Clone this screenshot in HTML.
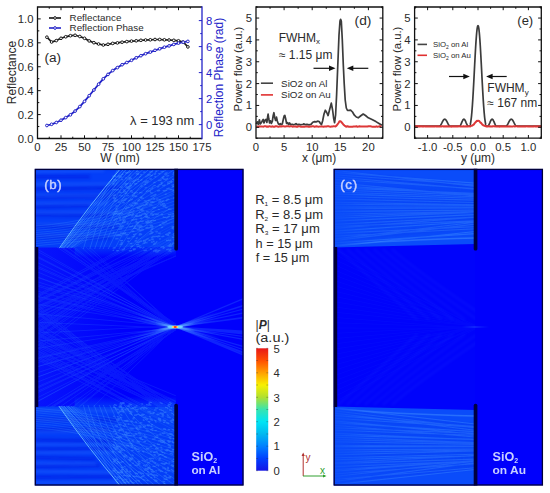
<!DOCTYPE html>
<html><head><meta charset="utf-8"><style>
html,body{margin:0;padding:0;background:#fff;font-family:"Liberation Sans", sans-serif;}
svg{display:block;}
</style></head><body>
<svg width="550" height="493" viewBox="0 0 550 493" font-family="&quot;Liberation Sans&quot;, sans-serif">
<rect width="550" height="493" fill="#fff"/>
<path d="M46.90,37.20L51.60,42.00L56.30,40.60L61.00,38.30L65.70,36.80L70.40,35.70L75.10,35.30L79.80,36.50L84.50,38.30L89.20,40.90L93.90,42.70L98.60,44.00L103.30,45.00L108.00,44.30L112.70,43.40L117.40,42.90L122.10,42.20L126.80,41.60L131.50,41.10L136.20,40.80L140.90,40.30L145.60,40.00L150.30,39.80L155.00,39.50L159.70,39.50L164.40,39.80L169.10,40.00L173.80,40.30L178.50,40.80L183.20,42.00L187.90,46.90" stroke="#1a1a1a" stroke-width="1.7" fill="none" stroke-linejoin="round"/>
<path d="M46.90,125.50L51.60,124.30L56.30,122.50L61.00,120.20L65.70,117.60L70.40,114.80L75.10,111.10L79.80,106.60L84.50,101.40L89.20,95.70L93.90,90.00L98.60,84.20L103.30,78.80L108.00,74.40L112.70,70.60L117.40,67.60L122.10,64.70L126.80,62.50L131.50,60.30L136.20,57.80L140.90,55.70L145.60,53.70L150.30,52.10L155.00,50.30L159.70,48.80L164.40,47.20L169.10,45.90L173.80,44.40L178.50,43.10L183.20,42.20L187.90,41.40" stroke="#2222c8" stroke-width="1.8" fill="none" stroke-linejoin="round"/>
<circle cx="46.90" cy="37.20" r="1.35" fill="#fff" stroke="#1a1a1a" stroke-width="1.0"/>
<circle cx="51.60" cy="42.00" r="1.35" fill="#fff" stroke="#1a1a1a" stroke-width="1.0"/>
<circle cx="56.30" cy="40.60" r="1.35" fill="#fff" stroke="#1a1a1a" stroke-width="1.0"/>
<circle cx="61.00" cy="38.30" r="1.35" fill="#fff" stroke="#1a1a1a" stroke-width="1.0"/>
<circle cx="65.70" cy="36.80" r="1.35" fill="#fff" stroke="#1a1a1a" stroke-width="1.0"/>
<circle cx="70.40" cy="35.70" r="1.35" fill="#fff" stroke="#1a1a1a" stroke-width="1.0"/>
<circle cx="75.10" cy="35.30" r="1.35" fill="#fff" stroke="#1a1a1a" stroke-width="1.0"/>
<circle cx="79.80" cy="36.50" r="1.35" fill="#fff" stroke="#1a1a1a" stroke-width="1.0"/>
<circle cx="84.50" cy="38.30" r="1.35" fill="#fff" stroke="#1a1a1a" stroke-width="1.0"/>
<circle cx="89.20" cy="40.90" r="1.35" fill="#fff" stroke="#1a1a1a" stroke-width="1.0"/>
<circle cx="93.90" cy="42.70" r="1.35" fill="#fff" stroke="#1a1a1a" stroke-width="1.0"/>
<circle cx="98.60" cy="44.00" r="1.35" fill="#fff" stroke="#1a1a1a" stroke-width="1.0"/>
<circle cx="103.30" cy="45.00" r="1.35" fill="#fff" stroke="#1a1a1a" stroke-width="1.0"/>
<circle cx="108.00" cy="44.30" r="1.35" fill="#fff" stroke="#1a1a1a" stroke-width="1.0"/>
<circle cx="112.70" cy="43.40" r="1.35" fill="#fff" stroke="#1a1a1a" stroke-width="1.0"/>
<circle cx="117.40" cy="42.90" r="1.35" fill="#fff" stroke="#1a1a1a" stroke-width="1.0"/>
<circle cx="122.10" cy="42.20" r="1.35" fill="#fff" stroke="#1a1a1a" stroke-width="1.0"/>
<circle cx="126.80" cy="41.60" r="1.35" fill="#fff" stroke="#1a1a1a" stroke-width="1.0"/>
<circle cx="131.50" cy="41.10" r="1.35" fill="#fff" stroke="#1a1a1a" stroke-width="1.0"/>
<circle cx="136.20" cy="40.80" r="1.35" fill="#fff" stroke="#1a1a1a" stroke-width="1.0"/>
<circle cx="140.90" cy="40.30" r="1.35" fill="#fff" stroke="#1a1a1a" stroke-width="1.0"/>
<circle cx="145.60" cy="40.00" r="1.35" fill="#fff" stroke="#1a1a1a" stroke-width="1.0"/>
<circle cx="150.30" cy="39.80" r="1.35" fill="#fff" stroke="#1a1a1a" stroke-width="1.0"/>
<circle cx="155.00" cy="39.50" r="1.35" fill="#fff" stroke="#1a1a1a" stroke-width="1.0"/>
<circle cx="159.70" cy="39.50" r="1.35" fill="#fff" stroke="#1a1a1a" stroke-width="1.0"/>
<circle cx="164.40" cy="39.80" r="1.35" fill="#fff" stroke="#1a1a1a" stroke-width="1.0"/>
<circle cx="169.10" cy="40.00" r="1.35" fill="#fff" stroke="#1a1a1a" stroke-width="1.0"/>
<circle cx="173.80" cy="40.30" r="1.35" fill="#fff" stroke="#1a1a1a" stroke-width="1.0"/>
<circle cx="178.50" cy="40.80" r="1.35" fill="#fff" stroke="#1a1a1a" stroke-width="1.0"/>
<circle cx="183.20" cy="42.00" r="1.35" fill="#fff" stroke="#1a1a1a" stroke-width="1.0"/>
<circle cx="187.90" cy="46.90" r="1.35" fill="#fff" stroke="#1a1a1a" stroke-width="1.0"/>
<circle cx="46.90" cy="125.50" r="1.35" fill="#fff" stroke="#2222c8" stroke-width="1.0"/>
<circle cx="51.60" cy="124.30" r="1.35" fill="#fff" stroke="#2222c8" stroke-width="1.0"/>
<circle cx="56.30" cy="122.50" r="1.35" fill="#fff" stroke="#2222c8" stroke-width="1.0"/>
<circle cx="61.00" cy="120.20" r="1.35" fill="#fff" stroke="#2222c8" stroke-width="1.0"/>
<circle cx="65.70" cy="117.60" r="1.35" fill="#fff" stroke="#2222c8" stroke-width="1.0"/>
<circle cx="70.40" cy="114.80" r="1.35" fill="#fff" stroke="#2222c8" stroke-width="1.0"/>
<circle cx="75.10" cy="111.10" r="1.35" fill="#fff" stroke="#2222c8" stroke-width="1.0"/>
<circle cx="79.80" cy="106.60" r="1.35" fill="#fff" stroke="#2222c8" stroke-width="1.0"/>
<circle cx="84.50" cy="101.40" r="1.35" fill="#fff" stroke="#2222c8" stroke-width="1.0"/>
<circle cx="89.20" cy="95.70" r="1.35" fill="#fff" stroke="#2222c8" stroke-width="1.0"/>
<circle cx="93.90" cy="90.00" r="1.35" fill="#fff" stroke="#2222c8" stroke-width="1.0"/>
<circle cx="98.60" cy="84.20" r="1.35" fill="#fff" stroke="#2222c8" stroke-width="1.0"/>
<circle cx="103.30" cy="78.80" r="1.35" fill="#fff" stroke="#2222c8" stroke-width="1.0"/>
<circle cx="108.00" cy="74.40" r="1.35" fill="#fff" stroke="#2222c8" stroke-width="1.0"/>
<circle cx="112.70" cy="70.60" r="1.35" fill="#fff" stroke="#2222c8" stroke-width="1.0"/>
<circle cx="117.40" cy="67.60" r="1.35" fill="#fff" stroke="#2222c8" stroke-width="1.0"/>
<circle cx="122.10" cy="64.70" r="1.35" fill="#fff" stroke="#2222c8" stroke-width="1.0"/>
<circle cx="126.80" cy="62.50" r="1.35" fill="#fff" stroke="#2222c8" stroke-width="1.0"/>
<circle cx="131.50" cy="60.30" r="1.35" fill="#fff" stroke="#2222c8" stroke-width="1.0"/>
<circle cx="136.20" cy="57.80" r="1.35" fill="#fff" stroke="#2222c8" stroke-width="1.0"/>
<circle cx="140.90" cy="55.70" r="1.35" fill="#fff" stroke="#2222c8" stroke-width="1.0"/>
<circle cx="145.60" cy="53.70" r="1.35" fill="#fff" stroke="#2222c8" stroke-width="1.0"/>
<circle cx="150.30" cy="52.10" r="1.35" fill="#fff" stroke="#2222c8" stroke-width="1.0"/>
<circle cx="155.00" cy="50.30" r="1.35" fill="#fff" stroke="#2222c8" stroke-width="1.0"/>
<circle cx="159.70" cy="48.80" r="1.35" fill="#fff" stroke="#2222c8" stroke-width="1.0"/>
<circle cx="164.40" cy="47.20" r="1.35" fill="#fff" stroke="#2222c8" stroke-width="1.0"/>
<circle cx="169.10" cy="45.90" r="1.35" fill="#fff" stroke="#2222c8" stroke-width="1.0"/>
<circle cx="173.80" cy="44.40" r="1.35" fill="#fff" stroke="#2222c8" stroke-width="1.0"/>
<circle cx="178.50" cy="43.10" r="1.35" fill="#fff" stroke="#2222c8" stroke-width="1.0"/>
<circle cx="183.20" cy="42.20" r="1.35" fill="#fff" stroke="#2222c8" stroke-width="1.0"/>
<circle cx="187.90" cy="41.40" r="1.35" fill="#fff" stroke="#2222c8" stroke-width="1.0"/>
<path d="M37.5,7.0H202.0" stroke="#111" stroke-width="1.3" fill="none"/>
<path d="M37.5,138.5H202.0" stroke="#111" stroke-width="1.3" fill="none"/>
<path d="M37.5,6.35V139.15" stroke="#111" stroke-width="1.3" fill="none"/>
<path d="M202.0,6.35V139.15" stroke="#2222c8" stroke-width="1.3" fill="none"/>
<path d="M61.00,138.5V135.3M61.00,7.0V10.2M84.50,138.5V135.3M84.50,7.0V10.2M108.00,138.5V135.3M108.00,7.0V10.2M131.50,138.5V135.3M131.50,7.0V10.2M155.00,138.5V135.3M155.00,7.0V10.2M178.50,138.5V135.3M178.50,7.0V10.2" stroke="#111" stroke-width="1"/>
<path d="M49.25,138.5V136.7M49.25,7.0V8.8M72.75,138.5V136.7M72.75,7.0V8.8M96.25,138.5V136.7M96.25,7.0V8.8M119.75,138.5V136.7M119.75,7.0V8.8M143.25,138.5V136.7M143.25,7.0V8.8M166.75,138.5V136.7M166.75,7.0V8.8M190.25,138.5V136.7M190.25,7.0V8.8" stroke="#111" stroke-width="1"/>
<path d="M37.5,114.58H40.7M37.5,90.66H40.7M37.5,66.74H40.7M37.5,42.82H40.7M37.5,18.90H40.7" stroke="#111" stroke-width="1"/>
<path d="M37.5,126.54H39.3M37.5,102.62H39.3M37.5,78.70H39.3M37.5,54.78H39.3M37.5,30.86H39.3" stroke="#111" stroke-width="1"/>
<path d="M202.0,124.60H198.8M202.0,98.60H198.8M202.0,72.60H198.8M202.0,46.60H198.8M202.0,20.60H198.8" stroke="#2222c8" stroke-width="1"/>
<path d="M202.0,111.60H200.2M202.0,85.60H200.2M202.0,59.60H200.2M202.0,33.60H200.2" stroke="#2222c8" stroke-width="1"/>
<text x="33.5" y="142.5" font-size="11.3" text-anchor="end" fill="#2a2a2a" >0.0</text>
<text x="33.5" y="118.6" font-size="11.3" text-anchor="end" fill="#2a2a2a" >0.2</text>
<text x="33.5" y="94.7" font-size="11.3" text-anchor="end" fill="#2a2a2a" >0.4</text>
<text x="33.5" y="70.7" font-size="11.3" text-anchor="end" fill="#2a2a2a" >0.6</text>
<text x="33.5" y="46.8" font-size="11.3" text-anchor="end" fill="#2a2a2a" >0.8</text>
<text x="33.5" y="22.9" font-size="11.3" text-anchor="end" fill="#2a2a2a" >1.0</text>
<text x="37.5" y="151.0" font-size="11.3" text-anchor="middle" fill="#2a2a2a" >0</text>
<text x="61.0" y="151.0" font-size="11.3" text-anchor="middle" fill="#2a2a2a" >25</text>
<text x="84.5" y="151.0" font-size="11.3" text-anchor="middle" fill="#2a2a2a" >50</text>
<text x="108.0" y="151.0" font-size="11.3" text-anchor="middle" fill="#2a2a2a" >75</text>
<text x="131.5" y="151.0" font-size="11.3" text-anchor="middle" fill="#2a2a2a" >100</text>
<text x="155.0" y="151.0" font-size="11.3" text-anchor="middle" fill="#2a2a2a" >125</text>
<text x="178.5" y="151.0" font-size="11.3" text-anchor="middle" fill="#2a2a2a" >150</text>
<text x="202.0" y="151.0" font-size="11.3" text-anchor="middle" fill="#2a2a2a" >175</text>
<text x="206.0" y="128.6" font-size="11.3" text-anchor="start" fill="#2222c8" >0</text>
<text x="206.0" y="102.6" font-size="11.3" text-anchor="start" fill="#2222c8" >2</text>
<text x="206.0" y="76.6" font-size="11.3" text-anchor="start" fill="#2222c8" >4</text>
<text x="206.0" y="50.6" font-size="11.3" text-anchor="start" fill="#2222c8" >6</text>
<text x="206.0" y="24.6" font-size="11.3" text-anchor="start" fill="#2222c8" >8</text>
<text x="120.0" y="162.2" font-size="12" text-anchor="middle" fill="#2a2a2a" >W (nm)</text>
<text transform="translate(15.8,72.6) rotate(-90)" font-size="12" text-anchor="middle" fill="#2a2a2a">Reflectance</text>
<text transform="translate(223.2,77.5) rotate(-90)" font-size="12" text-anchor="middle" fill="#2222c8">Reflection Phase (rad)</text>
<path d="M49.00,18.00L61.00,18.00" stroke="#111" stroke-width="1.6" fill="none" stroke-linejoin="round"/>
<circle cx="55.00" cy="18.00" r="1.35" fill="#fff" stroke="#1a1a1a" stroke-width="1.0"/>
<path d="M49.00,28.00L61.00,28.00" stroke="#2222c8" stroke-width="1.6" fill="none" stroke-linejoin="round"/>
<circle cx="55.00" cy="28.00" r="1.35" fill="#fff" stroke="#2222c8" stroke-width="1.0"/>
<text x="69.6" y="20.8" font-size="9.8" text-anchor="start" fill="#2a2a2a" >Reflectance</text>
<text x="69.6" y="30.7" font-size="9.8" text-anchor="start" fill="#2a2a2a" >Reflection Phase</text>
<text x="44.4" y="61.7" font-size="12.5" text-anchor="start" fill="#2a2a2a" textLength="16.6" lengthAdjust="spacingAndGlyphs">(a)</text>
<text x="130.1" y="124.5" font-size="12" text-anchor="start" fill="#2a2a2a" textLength="64.2" lengthAdjust="spacingAndGlyphs">&#955; = 193 nm</text>
<path d="M256.30,124.00L257.30,121.80L258.30,124.50L259.40,119.80L260.30,124.00L261.30,122.80L262.30,120.80L263.20,119.40L264.00,123.00L265.00,120.20L266.00,119.30L266.90,122.50L267.60,117.00L268.10,114.20L268.80,119.00L269.60,123.00L270.50,120.80L271.40,123.50L272.30,121.50L273.20,115.50L273.90,112.70L274.70,117.50L275.60,120.50L276.50,117.10L277.30,121.00L278.30,123.80L279.30,124.60L280.30,123.60L281.30,124.60L282.30,124.00L283.40,119.00L284.20,115.80L284.80,115.30L285.60,118.50L286.60,123.50L287.60,122.60L288.60,124.50L289.60,123.00L290.60,124.70L292.00,124.20L293.50,124.80L295.00,124.30L296.00,123.60L297.00,124.60L299.00,124.40L301.00,124.80L303.00,124.20L304.00,123.80L305.00,124.60L307.00,124.40L309.00,124.80L311.00,124.40L312.80,122.20L314.50,121.60L316.00,121.90L317.60,121.20L319.20,121.50L320.40,123.50L321.50,124.60L322.60,121.00L324.00,114.00L325.30,110.20L326.70,112.50L328.10,115.60L329.50,110.00L331.30,103.10L332.60,110.00L333.60,118.00L334.60,122.70L335.60,115.00L336.60,95.00L337.80,65.00L339.00,35.00L340.00,21.00L340.60,19.30L341.30,21.00L342.30,40.00L343.30,65.00L344.20,83.50L345.20,100.00L346.30,108.00L347.50,110.50L349.00,110.30L350.60,110.20L352.50,112.00L354.40,115.20L356.30,117.00L358.20,117.80L360.50,116.00L363.20,114.00L365.50,115.50L368.30,117.80L372.00,119.50L375.90,121.60L379.00,123.50L382.00,125.30" stroke="#3c3c3c" stroke-width="1.7" fill="none" stroke-linejoin="round"/>
<path d="M256.50,126.24L257.50,126.74L258.50,126.68L259.50,126.33L260.50,126.50L261.50,126.46L262.50,126.61L263.50,126.70L264.50,126.22L265.50,126.17L266.50,126.74L267.50,126.45L268.50,126.68L269.50,126.15L270.50,126.46L271.50,126.66L272.50,126.31L273.50,126.81L274.50,126.78L275.50,126.17L276.50,126.17L277.50,126.53L278.50,126.81L279.50,126.42L280.50,126.30L281.50,126.45L282.50,126.17L283.50,126.31L284.50,126.46L285.50,126.50L286.50,126.31L287.50,126.31L288.50,126.30L289.50,126.47L290.50,126.35L291.50,126.17L292.50,126.74L293.50,126.54L294.50,126.60L295.50,126.28L296.50,126.84L297.50,126.75L298.50,126.23L299.50,126.38L300.50,126.66L301.50,126.65L302.50,126.81L303.50,126.45L304.50,126.73L305.50,126.62L306.50,126.36L307.50,126.56L308.50,126.77L309.50,126.74L310.50,126.50L311.50,126.56L312.50,126.17L313.50,126.32L314.50,126.71L315.50,126.44L316.50,126.27L317.50,126.53L318.50,126.64L319.50,126.62L320.50,126.41L321.50,126.46L322.50,126.51L323.50,126.69L324.50,126.51L325.50,126.43L326.50,126.49L327.50,126.17L328.50,126.18L329.50,126.64L330.50,126.84L331.50,126.56L332.50,126.42L333.50,126.24L334.50,126.37L335.50,126.42L336.50,125.61L337.50,124.28L338.50,123.00L339.50,121.31L340.50,121.16L341.50,122.24L342.50,123.42L343.50,124.75L344.50,125.58L345.50,126.27L346.50,126.74L347.50,126.14L348.50,126.70L349.50,126.72L350.50,126.77L351.50,126.67L352.50,126.72L353.50,126.51L354.50,126.54L355.50,126.45L356.50,126.19L357.50,126.76L358.50,126.55L359.50,126.29L360.50,126.50L361.50,126.49L362.50,126.40L363.50,126.39L364.50,126.53L365.50,126.59L366.50,126.58L367.50,126.47L368.50,126.17L369.50,126.31L370.50,126.27L371.50,126.56L372.50,126.75L373.50,126.71L374.50,126.71L375.50,126.72L376.50,126.33L377.50,126.74L378.50,126.62L379.50,126.21L380.50,126.16L381.50,126.16" stroke="#dd3838" stroke-width="2.0" fill="none" stroke-linejoin="round"/>
<path d="M256.0,7.0H382.8" stroke="#111" stroke-width="1.3" fill="none"/>
<path d="M256.0,138.2H382.8" stroke="#111" stroke-width="1.3" fill="none"/>
<path d="M256.0,6.35V138.85" stroke="#111" stroke-width="1.3" fill="none"/>
<path d="M382.8,6.35V138.85" stroke="#111" stroke-width="1.3" fill="none"/>
<path d="M284.10,138.2V135.0M284.10,7.0V10.2M312.20,138.2V135.0M312.20,7.0V10.2M340.30,138.2V135.0M340.30,7.0V10.2M368.40,138.2V135.0M368.40,7.0V10.2" stroke="#111" stroke-width="1"/>
<path d="M270.05,138.2V136.39999999999998M270.05,7.0V8.8M298.15,138.2V136.39999999999998M298.15,7.0V8.8M326.25,138.2V136.39999999999998M326.25,7.0V8.8M354.35,138.2V136.39999999999998M354.35,7.0V8.8M382.45,138.2V136.39999999999998M382.45,7.0V8.8" stroke="#111" stroke-width="1"/>
<path d="M256.0,127.30H259.2M256.0,105.45H259.2M256.0,83.60H259.2M256.0,61.75H259.2M256.0,39.90H259.2M256.0,18.05H259.2" stroke="#111" stroke-width="1"/>
<path d="M256.0,138.22H257.8M256.0,116.38H257.8M256.0,94.52H257.8M256.0,72.67H257.8M256.0,50.82H257.8M256.0,28.97H257.8M256.0,7.12H257.8" stroke="#111" stroke-width="1"/>
<path d="M382.8,127.30H379.6M382.8,105.45H379.6M382.8,83.60H379.6M382.8,61.75H379.6M382.8,39.90H379.6M382.8,18.05H379.6" stroke="#111" stroke-width="1"/>
<path d="M382.8,138.22H381.0M382.8,116.38H381.0M382.8,94.52H381.0M382.8,72.67H381.0M382.8,50.82H381.0M382.8,28.97H381.0M382.8,7.12H381.0" stroke="#111" stroke-width="1"/>
<text x="252.0" y="131.3" font-size="11.3" text-anchor="end" fill="#2a2a2a" >0</text>
<text x="252.0" y="109.4" font-size="11.3" text-anchor="end" fill="#2a2a2a" >1</text>
<text x="252.0" y="87.6" font-size="11.3" text-anchor="end" fill="#2a2a2a" >2</text>
<text x="252.0" y="65.7" font-size="11.3" text-anchor="end" fill="#2a2a2a" >3</text>
<text x="252.0" y="43.9" font-size="11.3" text-anchor="end" fill="#2a2a2a" >4</text>
<text x="252.0" y="22.0" font-size="11.3" text-anchor="end" fill="#2a2a2a" >5</text>
<text x="256.0" y="151.0" font-size="11.3" text-anchor="middle" fill="#2a2a2a" >0</text>
<text x="284.1" y="151.0" font-size="11.3" text-anchor="middle" fill="#2a2a2a" >5</text>
<text x="312.2" y="151.0" font-size="11.3" text-anchor="middle" fill="#2a2a2a" >10</text>
<text x="340.3" y="151.0" font-size="11.3" text-anchor="middle" fill="#2a2a2a" >15</text>
<text x="368.4" y="151.0" font-size="11.3" text-anchor="middle" fill="#2a2a2a" >20</text>
<text x="319.2" y="162.2" font-size="12" text-anchor="middle" fill="#2a2a2a" >x (&#956;m)</text>
<text transform="translate(242.0,69) rotate(-90)" font-size="11.3" text-anchor="middle" fill="#2a2a2a">Power flow (a.u.)</text>
<text x="278.7" y="41.9" font-size="12" text-anchor="start" fill="#2a2a2a" >FWHM<tspan font-size="8" dy="2.5">x</tspan></text>
<text x="278.9" y="59.2" font-size="12" text-anchor="start" fill="#2a2a2a" >&#8776; 1.15 &#956;m</text>
<path d="M313.5,68.3H331" stroke="#111" stroke-width="1.2"/><path d="M335.5,68.3l-6.5,-2.7v5.4z" fill="#111"/>
<path d="M351,68.3H368.3" stroke="#111" stroke-width="1.2"/><path d="M346.8,68.3l6.5,-2.7v5.4z" fill="#111"/>
<path d="M260.90,83.20L273.00,83.20" stroke="#444" stroke-width="1.6" fill="none" stroke-linejoin="round"/>
<path d="M260.90,94.90L273.00,94.90" stroke="#e03030" stroke-width="1.6" fill="none" stroke-linejoin="round"/>
<text x="281.1" y="86.8" font-size="9.8" text-anchor="start" fill="#2a2a2a" >SiO2 on Al</text>
<text x="281.1" y="98.3" font-size="9.8" text-anchor="start" fill="#2a2a2a" >SiO2 on Au</text>
<text x="354.6" y="24.6" font-size="12.5" text-anchor="start" fill="#2a2a2a" textLength="16.8" lengthAdjust="spacingAndGlyphs">(d)</text>
<path d="M414.50,126.21L414.60,126.21L414.70,126.21L414.80,126.21L414.90,126.21L415.00,126.21L415.10,126.21L415.20,126.21L415.30,126.21L415.40,126.21L415.50,126.21L415.60,126.21L415.71,126.21L415.81,126.21L415.91,126.21L416.01,126.21L416.11,126.21L416.21,126.21L416.31,126.21L416.41,126.21L416.51,126.21L416.61,126.21L416.71,126.21L416.81,126.21L416.92,126.21L417.02,126.21L417.12,126.21L417.22,126.21L417.32,126.21L417.42,126.21L417.52,126.21L417.62,126.21L417.72,126.21L417.82,126.21L417.92,126.21L418.02,126.21L418.12,126.21L418.23,126.21L418.33,126.21L418.43,126.21L418.53,126.21L418.63,126.21L418.73,126.21L418.83,126.21L418.93,126.21L419.03,126.21L419.13,126.21L419.23,126.21L419.33,126.21L419.44,126.21L419.54,126.21L419.64,126.21L419.74,126.21L419.84,126.21L419.94,126.21L420.04,126.21L420.14,126.21L420.24,126.21L420.34,126.21L420.44,126.21L420.54,126.21L420.64,126.21L420.75,126.21L420.85,126.21L420.95,126.21L421.05,126.21L421.15,126.21L421.25,126.21L421.35,126.21L421.45,126.21L421.55,126.21L421.65,126.21L421.75,126.21L421.85,126.21L421.96,126.21L422.06,126.21L422.16,126.21L422.26,126.21L422.36,126.21L422.46,126.21L422.56,126.21L422.66,126.21L422.76,126.21L422.86,126.21L422.96,126.21L423.06,126.21L423.16,126.21L423.27,126.21L423.37,126.21L423.47,126.21L423.57,126.21L423.67,126.21L423.77,126.21L423.87,126.21L423.97,126.21L424.07,126.21L424.17,126.21L424.27,126.21L424.37,126.21L424.48,126.21L424.58,126.21L424.68,126.21L424.78,126.21L424.88,126.21L424.98,126.21L425.08,126.21L425.18,126.21L425.28,126.21L425.38,126.21L425.48,126.21L425.58,126.21L425.68,126.21L425.79,126.21L425.89,126.21L425.99,126.21L426.09,126.21L426.19,126.21L426.29,126.21L426.39,126.21L426.49,126.21L426.59,126.21L426.69,126.21L426.79,126.21L426.89,126.21L427.00,126.21L427.10,126.21L427.20,126.21L427.30,126.21L427.40,126.21L427.50,126.21L427.60,126.21L427.70,126.21L427.80,126.21L427.90,126.21L428.00,126.21L428.10,126.21L428.20,126.21L428.31,126.21L428.41,126.21L428.51,126.21L428.61,126.21L428.71,126.21L428.81,126.21L428.91,126.21L429.01,126.21L429.11,126.21L429.21,126.21L429.31,126.21L429.41,126.21L429.52,126.21L429.62,126.21L429.72,126.21L429.82,126.21L429.92,126.21L430.02,126.21L430.12,126.21L430.22,126.21L430.32,126.21L430.42,126.21L430.52,126.21L430.62,126.21L430.72,126.21L430.83,126.21L430.93,126.21L431.03,126.21L431.13,126.21L431.23,126.21L431.33,126.21L431.43,126.21L431.53,126.21L431.63,126.21L431.73,126.21L431.83,126.21L431.93,126.21L432.04,126.21L432.14,126.21L432.24,126.21L432.34,126.21L432.44,126.21L432.54,126.21L432.64,126.21L432.74,126.21L432.84,126.21L432.94,126.21L433.04,126.21L433.14,126.21L433.24,126.21L433.35,126.21L433.45,126.21L433.55,126.21L433.65,126.21L433.75,126.21L433.85,126.21L433.95,126.21L434.05,126.21L434.15,126.21L434.25,126.21L434.35,126.21L434.45,126.21L434.56,126.21L434.66,126.21L434.76,126.21L434.86,126.21L434.96,126.21L435.06,126.21L435.16,126.21L435.26,126.21L435.36,126.21L435.46,126.21L435.56,126.21L435.66,126.21L435.76,126.21L435.87,126.21L435.97,126.21L436.07,126.21L436.17,126.21L436.27,126.21L436.37,126.21L436.47,126.21L436.57,126.21L436.67,126.21L436.77,126.21L436.87,126.21L436.97,126.21L437.08,126.21L437.18,126.21L437.28,126.21L437.38,126.21L437.48,126.21L437.58,126.21L437.68,126.21L437.78,126.21L437.88,126.21L437.98,126.21L438.08,126.21L438.18,126.21L438.28,126.21L438.39,126.21L438.49,126.21L438.59,126.21L438.69,126.21L438.79,126.21L438.89,126.21L438.99,126.21L439.09,126.21L439.19,126.21L439.29,126.20L439.39,126.18L439.49,126.16L439.60,126.12L439.70,126.07L439.80,126.00L439.90,125.93L440.00,125.85L440.10,125.76L440.20,125.65L440.30,125.54L440.40,125.42L440.50,125.29L440.60,125.15L440.70,125.00L440.80,124.85L440.91,124.68L441.01,124.52L441.11,124.34L441.21,124.16L441.31,123.98L441.41,123.79L441.51,123.60L441.61,123.41L441.71,123.21L441.81,123.01L441.91,122.81L442.01,122.61L442.12,122.41L442.22,122.21L442.32,122.02L442.42,121.82L442.52,121.63L442.62,121.44L442.72,121.26L442.82,121.08L442.92,120.91L443.02,120.74L443.12,120.58L443.22,120.42L443.32,120.28L443.43,120.14L443.53,120.01L443.63,119.88L443.73,119.77L443.83,119.67L443.93,119.57L444.03,119.49L444.13,119.42L444.23,119.36L444.33,119.31L444.43,119.27L444.53,119.24L444.64,119.22L444.74,119.22L444.84,119.22L444.94,119.24L445.04,119.27L445.14,119.31L445.24,119.36L445.34,119.42L445.44,119.49L445.54,119.57L445.64,119.67L445.74,119.77L445.84,119.88L445.95,120.01L446.05,120.14L446.15,120.28L446.25,120.42L446.35,120.58L446.45,120.74L446.55,120.91L446.65,121.08L446.75,121.26L446.85,121.44L446.95,121.63L447.05,121.82L447.16,122.02L447.26,122.21L447.36,122.41L447.46,122.61L447.56,122.81L447.66,123.01L447.76,123.21L447.86,123.41L447.96,123.60L448.06,123.79L448.16,123.98L448.26,124.16L448.36,124.34L448.47,124.52L448.57,124.68L448.67,124.85L448.77,125.00L448.87,125.15L448.97,125.29L449.07,125.42L449.17,125.54L449.27,125.65L449.37,125.76L449.47,125.85L449.57,125.93L449.68,126.00L449.78,126.07L449.88,126.12L449.98,126.16L450.08,126.18L450.18,126.20L450.28,126.21L450.38,126.21L450.48,126.21L450.58,126.21L450.68,126.21L450.78,126.21L450.88,126.21L450.99,126.21L451.09,126.21L451.19,126.21L451.29,126.21L451.39,126.21L451.49,126.21L451.59,126.21L451.69,126.21L451.79,126.21L451.89,126.21L451.99,126.21L452.09,126.21L452.20,126.21L452.30,126.21L452.40,126.21L452.50,126.21L452.60,126.21L452.70,126.21L452.80,126.21L452.90,126.21L453.00,126.21L453.10,126.21L453.20,126.21L453.30,126.21L453.40,126.21L453.51,126.21L453.61,126.21L453.71,126.21L453.81,126.21L453.91,126.21L454.01,126.21L454.11,126.21L454.21,126.21L454.31,126.21L454.41,126.21L454.51,126.21L454.61,126.21L454.72,126.21L454.82,126.21L454.92,126.21L455.02,126.21L455.12,126.21L455.22,126.21L455.32,126.21L455.42,126.21L455.52,126.21L455.62,126.21L455.72,126.21L455.82,126.21L455.92,126.21L456.03,126.21L456.13,126.21L456.23,126.21L456.33,126.21L456.43,126.21L456.53,126.21L456.63,126.21L456.73,126.21L456.83,126.21L456.93,126.21L457.03,126.21L457.13,126.21L457.24,126.21L457.34,126.21L457.44,126.21L457.54,126.21L457.64,126.21L457.74,126.21L457.84,126.21L457.94,126.21L458.04,126.21L458.14,126.21L458.24,126.21L458.34,126.21L458.44,126.21L458.55,126.21L458.65,126.21L458.75,126.21L458.85,126.21L458.95,126.21L459.05,126.21L459.15,126.21L459.25,126.21L459.35,126.21L459.45,126.20L459.55,126.17L459.65,126.13L459.76,126.07L459.86,126.00L459.96,125.91L460.06,125.80L460.16,125.68L460.26,125.54L460.36,125.39L460.46,125.23L460.56,125.05L460.66,124.86L460.76,124.67L460.86,124.46L460.96,124.24L461.07,124.02L461.17,123.79L461.27,123.56L461.37,123.32L461.47,123.08L461.57,122.83L461.67,122.59L461.77,122.35L461.87,122.10L461.97,121.87L462.07,121.63L462.17,121.40L462.28,121.18L462.38,120.96L462.48,120.76L462.58,120.56L462.68,120.37L462.78,120.20L462.88,120.03L462.98,119.88L463.08,119.75L463.18,119.62L463.28,119.52L463.38,119.43L463.48,119.35L463.59,119.29L463.69,119.25L463.79,119.22L463.89,119.22L463.99,119.22L464.09,119.25L464.19,119.29L464.29,119.35L464.39,119.43L464.49,119.52L464.59,119.62L464.69,119.75L464.80,119.88L464.90,120.03L465.00,120.20L465.10,120.37L465.20,120.56L465.30,120.76L465.40,120.96L465.50,121.18L465.60,121.40L465.70,121.63L465.80,121.87L465.90,122.10L466.00,122.35L466.11,122.59L466.21,122.83L466.31,123.08L466.41,123.32L466.51,123.56L466.61,123.79L466.71,124.02L466.81,124.24L466.91,124.46L467.01,124.67L467.11,124.86L467.21,125.05L467.32,125.23L467.42,125.39L467.52,125.54L467.62,125.68L467.72,125.80L467.82,125.91L467.92,126.00L468.02,126.07L468.12,126.13L468.22,126.17L468.32,126.20L468.42,126.21L468.52,126.21L468.63,126.21L468.73,126.21L468.83,126.21L468.93,126.21L469.03,126.21L469.13,126.21L469.23,126.20L469.33,126.18L469.43,126.12L469.53,126.03L469.63,125.91L469.73,125.76L469.84,125.57L469.94,125.35L470.04,125.08L470.14,124.77L470.24,124.43L470.34,124.03L470.44,123.60L470.54,123.12L470.64,122.59L470.74,122.01L470.84,121.39L470.94,120.71L471.04,119.98L471.15,119.21L471.25,118.38L471.35,117.50L471.45,116.57L471.55,115.58L471.65,114.54L471.75,113.46L471.85,112.31L471.95,111.12L472.05,109.88L472.15,108.59L472.25,107.24L472.36,105.85L472.46,104.41L472.56,102.93L472.66,101.40L472.76,99.83L472.86,98.22L472.96,96.56L473.06,94.87L473.16,93.15L473.26,91.39L473.36,89.60L473.46,87.78L473.56,85.94L473.67,84.07L473.77,82.18L473.87,80.28L473.97,78.35L474.07,76.42L474.17,74.48L474.27,72.53L474.37,70.58L474.47,68.64L474.57,66.69L474.67,64.76L474.77,62.83L474.88,60.92L474.98,59.03L475.08,57.16L475.18,55.31L475.28,53.49L475.38,51.70L475.48,49.95L475.58,48.24L475.68,46.57L475.78,44.94L475.88,43.36L475.98,41.83L476.08,40.35L476.19,38.93L476.29,37.58L476.39,36.28L476.49,35.05L476.59,33.88L476.69,32.79L476.79,31.76L476.89,30.82L476.99,29.94L477.09,29.15L477.19,28.43L477.29,27.80L477.40,27.24L477.50,26.77L477.60,26.39L477.70,26.09L477.80,25.87L477.90,25.74L478.00,25.70L478.10,25.74L478.20,25.87L478.30,26.09L478.40,26.39L478.50,26.77L478.60,27.24L478.71,27.80L478.81,28.43L478.91,29.15L479.01,29.94L479.11,30.82L479.21,31.76L479.31,32.79L479.41,33.88L479.51,35.05L479.61,36.28L479.71,37.58L479.81,38.93L479.92,40.35L480.02,41.83L480.12,43.36L480.22,44.94L480.32,46.57L480.42,48.24L480.52,49.95L480.62,51.70L480.72,53.49L480.82,55.31L480.92,57.16L481.02,59.03L481.12,60.92L481.23,62.83L481.33,64.76L481.43,66.69L481.53,68.64L481.63,70.58L481.73,72.53L481.83,74.48L481.93,76.42L482.03,78.35L482.13,80.28L482.23,82.18L482.33,84.07L482.44,85.94L482.54,87.78L482.64,89.60L482.74,91.39L482.84,93.15L482.94,94.87L483.04,96.56L483.14,98.22L483.24,99.83L483.34,101.40L483.44,102.93L483.54,104.41L483.64,105.85L483.75,107.24L483.85,108.59L483.95,109.88L484.05,111.12L484.15,112.31L484.25,113.46L484.35,114.54L484.45,115.58L484.55,116.57L484.65,117.50L484.75,118.38L484.85,119.21L484.96,119.98L485.06,120.71L485.16,121.39L485.26,122.01L485.36,122.59L485.46,123.12L485.56,123.60L485.66,124.03L485.76,124.43L485.86,124.77L485.96,125.08L486.06,125.35L486.16,125.57L486.27,125.76L486.37,125.91L486.47,126.03L486.57,126.12L486.67,126.18L486.77,126.20L486.87,126.21L486.97,126.21L487.07,126.21L487.17,126.21L487.27,126.21L487.37,126.21L487.48,126.21L487.58,126.21L487.68,126.20L487.78,126.17L487.88,126.13L487.98,126.07L488.08,126.00L488.18,125.91L488.28,125.80L488.38,125.68L488.48,125.54L488.58,125.39L488.68,125.23L488.79,125.05L488.89,124.86L488.99,124.67L489.09,124.46L489.19,124.24L489.29,124.02L489.39,123.79L489.49,123.56L489.59,123.32L489.69,123.08L489.79,122.83L489.89,122.59L490.00,122.35L490.10,122.10L490.20,121.87L490.30,121.63L490.40,121.40L490.50,121.18L490.60,120.96L490.70,120.76L490.80,120.56L490.90,120.37L491.00,120.20L491.10,120.03L491.20,119.88L491.31,119.75L491.41,119.62L491.51,119.52L491.61,119.43L491.71,119.35L491.81,119.29L491.91,119.25L492.01,119.22L492.11,119.22L492.21,119.22L492.31,119.25L492.41,119.29L492.52,119.35L492.62,119.43L492.72,119.52L492.82,119.62L492.92,119.75L493.02,119.88L493.12,120.03L493.22,120.20L493.32,120.37L493.42,120.56L493.52,120.76L493.62,120.96L493.72,121.18L493.83,121.40L493.93,121.63L494.03,121.87L494.13,122.10L494.23,122.35L494.33,122.59L494.43,122.83L494.53,123.08L494.63,123.32L494.73,123.56L494.83,123.79L494.93,124.02L495.04,124.24L495.14,124.46L495.24,124.67L495.34,124.86L495.44,125.05L495.54,125.23L495.64,125.39L495.74,125.54L495.84,125.68L495.94,125.80L496.04,125.91L496.14,126.00L496.24,126.07L496.35,126.13L496.45,126.17L496.55,126.20L496.65,126.21L496.75,126.21L496.85,126.21L496.95,126.21L497.05,126.21L497.15,126.21L497.25,126.21L497.35,126.21L497.45,126.21L497.56,126.21L497.66,126.21L497.76,126.21L497.86,126.21L497.96,126.21L498.06,126.21L498.16,126.21L498.26,126.21L498.36,126.21L498.46,126.21L498.56,126.21L498.66,126.21L498.76,126.21L498.87,126.21L498.97,126.21L499.07,126.21L499.17,126.21L499.27,126.21L499.37,126.21L499.47,126.21L499.57,126.21L499.67,126.21L499.77,126.21L499.87,126.21L499.97,126.21L500.08,126.21L500.18,126.21L500.28,126.21L500.38,126.21L500.48,126.21L500.58,126.21L500.68,126.21L500.78,126.21L500.88,126.21L500.98,126.21L501.08,126.21L501.18,126.21L501.28,126.21L501.39,126.21L501.49,126.21L501.59,126.21L501.69,126.21L501.79,126.21L501.89,126.21L501.99,126.21L502.09,126.21L502.19,126.21L502.29,126.21L502.39,126.21L502.49,126.21L502.60,126.21L502.70,126.21L502.80,126.21L502.90,126.21L503.00,126.21L503.10,126.21L503.20,126.21L503.30,126.21L503.40,126.21L503.50,126.21L503.60,126.21L503.70,126.21L503.80,126.21L503.91,126.21L504.01,126.21L504.11,126.21L504.21,126.21L504.31,126.21L504.41,126.21L504.51,126.21L504.61,126.21L504.71,126.21L504.81,126.21L504.91,126.21L505.01,126.21L505.12,126.21L505.22,126.21L505.32,126.21L505.42,126.21L505.52,126.21L505.62,126.21L505.72,126.21L505.82,126.20L505.92,126.18L506.02,126.16L506.12,126.12L506.22,126.07L506.32,126.00L506.43,125.93L506.53,125.85L506.63,125.76L506.73,125.65L506.83,125.54L506.93,125.42L507.03,125.29L507.13,125.15L507.23,125.00L507.33,124.85L507.43,124.68L507.53,124.52L507.64,124.34L507.74,124.16L507.84,123.98L507.94,123.79L508.04,123.60L508.14,123.41L508.24,123.21L508.34,123.01L508.44,122.81L508.54,122.61L508.64,122.41L508.74,122.21L508.84,122.02L508.95,121.82L509.05,121.63L509.15,121.44L509.25,121.26L509.35,121.08L509.45,120.91L509.55,120.74L509.65,120.58L509.75,120.42L509.85,120.28L509.95,120.14L510.05,120.01L510.16,119.88L510.26,119.77L510.36,119.67L510.46,119.57L510.56,119.49L510.66,119.42L510.76,119.36L510.86,119.31L510.96,119.27L511.06,119.24L511.16,119.22L511.26,119.22L511.36,119.22L511.47,119.24L511.57,119.27L511.67,119.31L511.77,119.36L511.87,119.42L511.97,119.49L512.07,119.57L512.17,119.67L512.27,119.77L512.37,119.88L512.47,120.01L512.57,120.14L512.68,120.28L512.78,120.42L512.88,120.58L512.98,120.74L513.08,120.91L513.18,121.08L513.28,121.26L513.38,121.44L513.48,121.63L513.58,121.82L513.68,122.02L513.78,122.21L513.88,122.41L513.99,122.61L514.09,122.81L514.19,123.01L514.29,123.21L514.39,123.41L514.49,123.60L514.59,123.79L514.69,123.98L514.79,124.16L514.89,124.34L514.99,124.52L515.09,124.68L515.20,124.85L515.30,125.00L515.40,125.15L515.50,125.29L515.60,125.42L515.70,125.54L515.80,125.65L515.90,125.76L516.00,125.85L516.10,125.93L516.20,126.00L516.30,126.07L516.40,126.12L516.51,126.16L516.61,126.18L516.71,126.20L516.81,126.21L516.91,126.21L517.01,126.21L517.11,126.21L517.21,126.21L517.31,126.21L517.41,126.21L517.51,126.21L517.61,126.21L517.72,126.21L517.82,126.21L517.92,126.21L518.02,126.21L518.12,126.21L518.22,126.21L518.32,126.21L518.42,126.21L518.52,126.21L518.62,126.21L518.72,126.21L518.82,126.21L518.92,126.21L519.03,126.21L519.13,126.21L519.23,126.21L519.33,126.21L519.43,126.21L519.53,126.21L519.63,126.21L519.73,126.21L519.83,126.21L519.93,126.21L520.03,126.21L520.13,126.21L520.24,126.21L520.34,126.21L520.44,126.21L520.54,126.21L520.64,126.21L520.74,126.21L520.84,126.21L520.94,126.21L521.04,126.21L521.14,126.21L521.24,126.21L521.34,126.21L521.44,126.21L521.55,126.21L521.65,126.21L521.75,126.21L521.85,126.21L521.95,126.21L522.05,126.21L522.15,126.21L522.25,126.21L522.35,126.21L522.45,126.21L522.55,126.21L522.65,126.21L522.76,126.21L522.86,126.21L522.96,126.21L523.06,126.21L523.16,126.21L523.26,126.21L523.36,126.21L523.46,126.21L523.56,126.21L523.66,126.21L523.76,126.21L523.86,126.21L523.96,126.21L524.07,126.21L524.17,126.21L524.27,126.21L524.37,126.21L524.47,126.21L524.57,126.21L524.67,126.21L524.77,126.21L524.87,126.21L524.97,126.21L525.07,126.21L525.17,126.21L525.28,126.21L525.38,126.21L525.48,126.21L525.58,126.21L525.68,126.21L525.78,126.21L525.88,126.21L525.98,126.21L526.08,126.21L526.18,126.21L526.28,126.21L526.38,126.21L526.48,126.21L526.59,126.21L526.69,126.21L526.79,126.21L526.89,126.21L526.99,126.21L527.09,126.21L527.19,126.21L527.29,126.21L527.39,126.21L527.49,126.21L527.59,126.21L527.69,126.21L527.80,126.21L527.90,126.21L528.00,126.21L528.10,126.21L528.20,126.21L528.30,126.21L528.40,126.21L528.50,126.21L528.60,126.21L528.70,126.21L528.80,126.21L528.90,126.21L529.00,126.21L529.11,126.21L529.21,126.21L529.31,126.21L529.41,126.21L529.51,126.21L529.61,126.21L529.71,126.21L529.81,126.21L529.91,126.21L530.01,126.21L530.11,126.21L530.21,126.21L530.32,126.21L530.42,126.21L530.52,126.21L530.62,126.21L530.72,126.21L530.82,126.21L530.92,126.21L531.02,126.21L531.12,126.21L531.22,126.21L531.32,126.21L531.42,126.21L531.52,126.21L531.63,126.21L531.73,126.21L531.83,126.21L531.93,126.21L532.03,126.21L532.13,126.21L532.23,126.21L532.33,126.21L532.43,126.21L532.53,126.21L532.63,126.21L532.73,126.21L532.84,126.21L532.94,126.21L533.04,126.21L533.14,126.21L533.24,126.21L533.34,126.21L533.44,126.21L533.54,126.21L533.64,126.21L533.74,126.21L533.84,126.21L533.94,126.21L534.04,126.21L534.15,126.21L534.25,126.21L534.35,126.21L534.45,126.21L534.55,126.21L534.65,126.21L534.75,126.21L534.85,126.21L534.95,126.21L535.05,126.21L535.15,126.21L535.25,126.21L535.36,126.21L535.46,126.21L535.56,126.21L535.66,126.21L535.76,126.21L535.86,126.21L535.96,126.21L536.06,126.21L536.16,126.21L536.26,126.21L536.36,126.21L536.46,126.21L536.56,126.21L536.67,126.21L536.77,126.21L536.87,126.21L536.97,126.21L537.07,126.21L537.17,126.21L537.27,126.21L537.37,126.21L537.47,126.21L537.57,126.21L537.67,126.21L537.77,126.21L537.88,126.21L537.98,126.21L538.08,126.21L538.18,126.21L538.28,126.21L538.38,126.21L538.48,126.21L538.58,126.21L538.68,126.21L538.78,126.21L538.88,126.21L538.98,126.21L539.08,126.21L539.19,126.21L539.29,126.21L539.39,126.21L539.49,126.21L539.59,126.21L539.69,126.21L539.79,126.21L539.89,126.21L539.99,126.21L540.09,126.21L540.19,126.21L540.29,126.21L540.40,126.21L540.50,126.21L540.60,126.21L540.70,126.21L540.80,126.21L540.90,126.21L541.00,126.21L541.10,126.21L541.20,126.21L541.30,126.21L541.40,126.21L541.50,126.21" stroke="#3c3c3c" stroke-width="1.7" fill="none" stroke-linejoin="round"/>
<path d="M414.50,126.53L414.90,126.33L415.30,126.27L415.71,126.48L416.11,126.36L416.51,126.25L416.92,126.29L417.32,126.44L417.72,126.29L418.12,126.34L418.53,126.51L418.93,126.41L419.33,126.35L419.74,126.42L420.14,126.24L420.54,126.38L420.95,126.39L421.35,126.30L421.75,126.27L422.16,126.59L422.56,126.43L422.96,126.31L423.37,126.47L423.77,126.55L424.17,126.23L424.58,126.23L424.98,126.28L425.38,126.51L425.79,126.29L426.19,126.51L426.59,126.50L427.00,126.44L427.40,126.31L427.80,126.62L428.20,126.55L428.61,126.43L429.01,126.32L429.41,126.49L429.82,126.38L430.22,126.46L430.62,126.35L431.03,126.48L431.43,126.25L431.83,126.35L432.24,126.61L432.64,126.58L433.04,126.35L433.45,126.57L433.85,126.35L434.25,126.60L434.66,126.52L435.06,126.39L435.46,126.33L435.87,126.23L436.27,126.58L436.67,126.24L437.08,126.55L437.48,126.61L437.88,126.45L438.28,126.29L438.69,126.57L439.09,126.62L439.49,126.51L439.90,126.43L440.30,126.38L440.70,126.36L441.11,126.31L441.51,126.50L441.91,126.40L442.32,126.30L442.72,126.27L443.12,126.49L443.53,126.34L443.93,126.43L444.33,126.36L444.74,126.57L445.14,126.59L445.54,126.23L445.95,126.31L446.35,126.36L446.75,126.62L447.16,126.54L447.56,126.36L447.96,126.31L448.36,126.50L448.77,126.56L449.17,126.60L449.57,126.36L449.98,126.58L450.38,126.50L450.78,126.42L451.19,126.62L451.59,126.32L451.99,126.52L452.40,126.26L452.80,126.29L453.20,126.59L453.61,126.31L454.01,126.53L454.41,126.47L454.82,126.56L455.22,126.37L455.62,126.36L456.03,126.34L456.43,126.57L456.83,126.47L457.24,126.61L457.64,126.58L458.04,126.28L458.44,126.45L458.85,126.27L459.25,126.24L459.65,126.26L460.06,126.57L460.46,126.54L460.86,126.56L461.27,126.36L461.67,126.47L462.07,126.54L462.48,126.38L462.88,126.45L463.28,126.32L463.69,126.26L464.09,126.33L464.49,126.58L464.90,126.45L465.30,126.60L465.70,126.41L466.11,126.33L466.51,126.54L466.91,126.55L467.32,126.22L467.72,126.48L468.12,126.23L468.52,126.23L468.93,126.52L469.33,126.15L469.73,126.18L470.14,126.43L470.54,126.12L470.94,125.90L471.35,125.78L471.75,125.65L472.15,125.64L472.56,125.14L472.96,125.17L473.36,124.62L473.77,124.47L474.17,124.04L474.57,123.35L474.98,122.88L475.38,122.51L475.78,121.92L476.19,121.74L476.59,121.15L476.99,120.86L477.40,121.05L477.80,120.68L478.20,120.80L478.60,120.84L479.01,120.98L479.41,121.15L479.81,121.84L480.22,122.27L480.62,122.71L481.02,122.82L481.43,123.32L481.83,123.92L482.23,124.48L482.64,124.68L483.04,125.08L483.44,125.36L483.85,125.45L484.25,125.77L484.65,125.84L485.06,125.95L485.46,125.98L485.86,126.14L486.27,126.48L486.67,126.31L487.07,126.42L487.48,126.44L487.88,126.57L488.28,126.36L488.68,126.34L489.09,126.35L489.49,126.35L489.89,126.56L490.30,126.58L490.70,126.35L491.10,126.36L491.51,126.44L491.91,126.46L492.31,126.46L492.72,126.32L493.12,126.23L493.52,126.32L493.93,126.25L494.33,126.45L494.73,126.25L495.14,126.26L495.54,126.48L495.94,126.34L496.35,126.54L496.75,126.42L497.15,126.57L497.56,126.29L497.96,126.43L498.36,126.54L498.76,126.26L499.17,126.61L499.57,126.30L499.97,126.54L500.38,126.62L500.78,126.55L501.18,126.35L501.59,126.27L501.99,126.43L502.39,126.59L502.80,126.34L503.20,126.58L503.60,126.28L504.01,126.59L504.41,126.24L504.81,126.35L505.22,126.59L505.62,126.55L506.02,126.59L506.43,126.56L506.83,126.52L507.23,126.50L507.64,126.30L508.04,126.40L508.44,126.29L508.84,126.51L509.25,126.49L509.65,126.33L510.05,126.25L510.46,126.61L510.86,126.55L511.26,126.45L511.67,126.44L512.07,126.57L512.47,126.41L512.88,126.38L513.28,126.36L513.68,126.33L514.09,126.24L514.49,126.48L514.89,126.39L515.30,126.45L515.70,126.25L516.10,126.37L516.51,126.28L516.91,126.28L517.31,126.33L517.72,126.56L518.12,126.39L518.52,126.39L518.92,126.47L519.33,126.32L519.73,126.23L520.13,126.44L520.54,126.43L520.94,126.49L521.34,126.40L521.75,126.50L522.15,126.52L522.55,126.32L522.96,126.42L523.36,126.42L523.76,126.32L524.17,126.39L524.57,126.45L524.97,126.59L525.38,126.59L525.78,126.34L526.18,126.48L526.59,126.25L526.99,126.25L527.39,126.43L527.80,126.58L528.20,126.29L528.60,126.53L529.00,126.58L529.41,126.35L529.81,126.50L530.21,126.57L530.62,126.37L531.02,126.51L531.42,126.52L531.83,126.46L532.23,126.57L532.63,126.58L533.04,126.61L533.44,126.45L533.84,126.30L534.25,126.33L534.65,126.31L535.05,126.45L535.46,126.53L535.86,126.25L536.26,126.50L536.67,126.51L537.07,126.37L537.47,126.43L537.88,126.29L538.28,126.52L538.68,126.24L539.08,126.62L539.49,126.55L539.89,126.48L540.29,126.33L540.70,126.59L541.10,126.61L541.50,126.28" stroke="#dd3838" stroke-width="2.0" fill="none" stroke-linejoin="round"/>
<path d="M414.6,7.0H541.3" stroke="#111" stroke-width="1.3" fill="none"/>
<path d="M414.6,138.2H541.3" stroke="#111" stroke-width="1.3" fill="none"/>
<path d="M414.6,6.35V138.85" stroke="#111" stroke-width="1.3" fill="none"/>
<path d="M541.3,6.35V138.85" stroke="#111" stroke-width="1.3" fill="none"/>
<path d="M427.60,138.2V135.0M427.60,7.0V10.2M452.80,138.2V135.0M452.80,7.0V10.2M478.00,138.2V135.0M478.00,7.0V10.2M503.20,138.2V135.0M503.20,7.0V10.2M528.40,138.2V135.0M528.40,7.0V10.2" stroke="#111" stroke-width="1"/>
<path d="M415.00,138.2V136.39999999999998M415.00,7.0V8.8M440.20,138.2V136.39999999999998M440.20,7.0V8.8M465.40,138.2V136.39999999999998M465.40,7.0V8.8M490.60,138.2V136.39999999999998M490.60,7.0V8.8M515.80,138.2V136.39999999999998M515.80,7.0V8.8M541.00,138.2V136.39999999999998M541.00,7.0V8.8" stroke="#111" stroke-width="1"/>
<path d="M414.6,127.30H417.8M414.6,105.45H417.8M414.6,83.60H417.8M414.6,61.75H417.8M414.6,39.90H417.8M414.6,18.05H417.8" stroke="#111" stroke-width="1"/>
<path d="M414.6,138.22H416.40000000000003M414.6,116.38H416.40000000000003M414.6,94.52H416.40000000000003M414.6,72.67H416.40000000000003M414.6,50.82H416.40000000000003M414.6,28.97H416.40000000000003M414.6,7.12H416.40000000000003" stroke="#111" stroke-width="1"/>
<path d="M541.3,127.30H538.0999999999999M541.3,105.45H538.0999999999999M541.3,83.60H538.0999999999999M541.3,61.75H538.0999999999999M541.3,39.90H538.0999999999999M541.3,18.05H538.0999999999999" stroke="#111" stroke-width="1"/>
<path d="M541.3,138.22H539.5M541.3,116.38H539.5M541.3,94.52H539.5M541.3,72.67H539.5M541.3,50.82H539.5M541.3,28.97H539.5M541.3,7.12H539.5" stroke="#111" stroke-width="1"/>
<text x="410.5" y="131.3" font-size="11.3" text-anchor="end" fill="#2a2a2a" >0</text>
<text x="410.5" y="109.4" font-size="11.3" text-anchor="end" fill="#2a2a2a" >1</text>
<text x="410.5" y="87.6" font-size="11.3" text-anchor="end" fill="#2a2a2a" >2</text>
<text x="410.5" y="65.7" font-size="11.3" text-anchor="end" fill="#2a2a2a" >3</text>
<text x="410.5" y="43.9" font-size="11.3" text-anchor="end" fill="#2a2a2a" >4</text>
<text x="410.5" y="22.0" font-size="11.3" text-anchor="end" fill="#2a2a2a" >5</text>
<text x="427.6" y="151.0" font-size="11.3" text-anchor="middle" fill="#2a2a2a" >-1.0</text>
<text x="452.8" y="151.0" font-size="11.3" text-anchor="middle" fill="#2a2a2a" >-0.5</text>
<text x="478.0" y="151.0" font-size="11.3" text-anchor="middle" fill="#2a2a2a" >0.0</text>
<text x="503.2" y="151.0" font-size="11.3" text-anchor="middle" fill="#2a2a2a" >0.5</text>
<text x="528.4" y="151.0" font-size="11.3" text-anchor="middle" fill="#2a2a2a" >1.0</text>
<text x="478.0" y="162.2" font-size="12" text-anchor="middle" fill="#2a2a2a" >y (&#956;m)</text>
<text transform="translate(400.5,69) rotate(-90)" font-size="11.3" text-anchor="middle" fill="#2a2a2a">Power flow (a.u.)</text>
<text x="487.3" y="92.4" font-size="12" text-anchor="start" fill="#2a2a2a" >FWHM<tspan font-size="8" dy="2.5">y</tspan></text>
<text x="487.3" y="106.8" font-size="12" text-anchor="start" fill="#2a2a2a" >&#8776; 167 nm</text>
<path d="M449,76.5H465.5" stroke="#111" stroke-width="1.2"/><path d="M469.8,76.5l-6.5,-2.7v5.4z" fill="#111"/>
<path d="M490.3,76.5H506.7" stroke="#111" stroke-width="1.2"/><path d="M486.1,76.5l6.5,-2.7v5.4z" fill="#111"/>
<path d="M417.50,44.40L427.00,44.40" stroke="#444" stroke-width="1.6" fill="none" stroke-linejoin="round"/>
<path d="M417.50,55.30L427.00,55.30" stroke="#e03030" stroke-width="1.6" fill="none" stroke-linejoin="round"/>
<text x="433.0" y="47.3" font-size="7.8" text-anchor="start" fill="#2a2a2a" >SiO<tspan font-size="5" dy="1.5">2</tspan><tspan dy="-1.5"> on Al</tspan></text>
<text x="433.0" y="58.2" font-size="7.8" text-anchor="start" fill="#2a2a2a" >SiO<tspan font-size="5" dy="1.5">2</tspan><tspan dy="-1.5"> on Au</tspan></text>
<text x="517.3" y="24.6" font-size="12.5" text-anchor="start" fill="#2a2a2a" textLength="15.9" lengthAdjust="spacingAndGlyphs">(e)</text>
<text x="255.2" y="204.2" font-size="12" text-anchor="start" fill="#2a2a2a" textLength="68.0" lengthAdjust="spacingAndGlyphs">R<tspan font-size="6" dy="2">1</tspan><tspan dy="-2"> = 8.5 &#956;m</tspan></text>
<text x="255.2" y="218.7" font-size="12" text-anchor="start" fill="#2a2a2a" textLength="68.0" lengthAdjust="spacingAndGlyphs">R<tspan font-size="6" dy="2">2</tspan><tspan dy="-2"> = 8.5 &#956;m</tspan></text>
<text x="255.2" y="233.2" font-size="12" text-anchor="start" fill="#2a2a2a" textLength="64.6" lengthAdjust="spacingAndGlyphs">R<tspan font-size="6" dy="2">3</tspan><tspan dy="-2"> = 17 &#956;m</tspan></text>
<text x="255.6" y="247.7" font-size="12" text-anchor="start" fill="#2a2a2a" textLength="57.2" lengthAdjust="spacingAndGlyphs">h = 15 &#956;m</text>
<text x="255.8" y="262.2" font-size="12" text-anchor="start" fill="#2a2a2a" textLength="53.4" lengthAdjust="spacingAndGlyphs">f = 15 &#956;m</text>
<text x="255.5" y="329.2" font-size="12" text-anchor="start" fill="#2a2a2a" >|<tspan font-weight="bold" font-style="italic">P</tspan>|</text>
<text x="255.5" y="341.5" font-size="12" text-anchor="start" fill="#2a2a2a" textLength="33.8" lengthAdjust="spacingAndGlyphs">(a.u.)</text>
<defs><linearGradient id="jet" x1="0" y1="1" x2="0" y2="0"><stop offset="0" stop-color="#1414e6"/><stop offset="0.1" stop-color="#0040ff"/><stop offset="0.2" stop-color="#0080ff"/><stop offset="0.3" stop-color="#00b8f0"/><stop offset="0.4" stop-color="#00e4f4"/><stop offset="0.5" stop-color="#38e4b0"/><stop offset="0.6" stop-color="#b0e030"/><stop offset="0.7" stop-color="#f8f000"/><stop offset="0.8" stop-color="#ffa000"/><stop offset="0.9" stop-color="#ff5000"/><stop offset="1" stop-color="#e81818"/></linearGradient></defs>
<rect x="256.2" y="348.3" width="12" height="122.4" fill="url(#jet)"/>
<path d="M256.2,348.3h1.8M268.2,348.3h-1.8M256.2,360.5h1.8M268.2,360.5h-1.8M256.2,372.8h1.8M268.2,372.8h-1.8M256.2,385.0h1.8M268.2,385.0h-1.8M256.2,397.3h1.8M268.2,397.3h-1.8M256.2,409.5h1.8M268.2,409.5h-1.8M256.2,421.7h1.8M268.2,421.7h-1.8M256.2,434.0h1.8M268.2,434.0h-1.8M256.2,446.2h1.8M268.2,446.2h-1.8M256.2,458.5h1.8M268.2,458.5h-1.8M256.2,470.7h1.8M268.2,470.7h-1.8" stroke="#333" stroke-width="0.6" opacity="0.6"/>
<text x="273.4" y="474.9" font-size="11.3" text-anchor="start" fill="#2a2a2a" >0</text>
<text x="273.4" y="450.4" font-size="11.3" text-anchor="start" fill="#2a2a2a" >1</text>
<text x="273.4" y="425.9" font-size="11.3" text-anchor="start" fill="#2a2a2a" >2</text>
<text x="273.4" y="401.5" font-size="11.3" text-anchor="start" fill="#2a2a2a" >3</text>
<text x="273.4" y="377.0" font-size="11.3" text-anchor="start" fill="#2a2a2a" >4</text>
<text x="273.4" y="352.5" font-size="11.3" text-anchor="start" fill="#2a2a2a" >5</text>
<path d="M303.2,476V454" stroke="#b03030" stroke-width="1"/><path d="M303.2,452.5l-1.6,3.5h3.2z" fill="#b03030"/>
<path d="M303,476H325" stroke="#30a030" stroke-width="1"/><path d="M326.5,476l-3.5,-1.6v3.2z" fill="#30a030"/>
<text x="305.5" y="460.5" font-size="10" text-anchor="start" fill="#b03030" >y</text>
<text x="320.0" y="473.5" font-size="10" text-anchor="start" fill="#30a030" >x</text>
<filter id="bl05" filterUnits="userSpaceOnUse" x="0" y="150" width="550" height="343"><feGaussianBlur stdDeviation="0.4"/></filter>
<filter id="bl1" filterUnits="userSpaceOnUse" x="0" y="150" width="550" height="343"><feGaussianBlur stdDeviation="0.7"/></filter>
<filter id="bl2" filterUnits="userSpaceOnUse" x="0" y="150" width="550" height="343"><feGaussianBlur stdDeviation="1.4"/></filter>
<clipPath id="cb"><rect x="34.7" y="168.8" width="208.89999999999998" height="316.8"/></clipPath>
<clipPath id="cbL"><rect x="34.7" y="168.8" width="141.2" height="316.8"/></clipPath>
<g clip-path="url(#cb)">
<rect x="34.7" y="168.8" width="208.89999999999998" height="316.8" fill="#0000fc"/>
<linearGradient id="bleft" x1="0" y1="0" x2="1" y2="0"><stop offset="0" stop-color="#2060ff" stop-opacity="0.22"/><stop offset="1" stop-color="#2060ff" stop-opacity="0"/></linearGradient>
<rect x="34.7" y="168.8" width="90" height="316.8" fill="url(#bleft)"/>
<g clip-path="url(#cbL)">
<rect x="34.7" y="168.8" width="141.2" height="78.69999999999999" fill="#043ef8"/>
<rect x="34.7" y="406.5" width="141.2" height="79.10000000000002" fill="#043ef8"/>
<linearGradient id="bfadeT" x1="0" y1="0" x2="0" y2="1"><stop offset="0" stop-color="#043ef8" stop-opacity="0.8"/><stop offset="1" stop-color="#043ef8" stop-opacity="0"/></linearGradient>
<linearGradient id="bfadeB" x1="0" y1="1" x2="0" y2="0"><stop offset="0" stop-color="#043ef8" stop-opacity="0.8"/><stop offset="1" stop-color="#043ef8" stop-opacity="0"/></linearGradient>
<rect x="74.7" y="247.5" width="101.19999999999999" height="10" fill="url(#bfadeT)"/>
<rect x="74.7" y="396.5" width="101.19999999999999" height="10" fill="url(#bfadeB)"/>
<path d="M37.7,294.6L175.9,219.1M37.7,295.9L175.9,223.6M37.7,297.1L175.9,219.7M37.7,299.7L175.9,234.6M37.7,301.0L175.9,234.7M37.7,301.3L175.9,237.5M37.7,302.9L175.9,225.8M37.7,306.1L175.9,246.9M37.7,307.0L175.9,241.3M37.7,307.6L175.9,244.5M37.7,309.5L175.9,236.1M37.7,310.6L175.9,249.8M37.7,313.1L175.9,256.1M37.7,315.1L175.9,244.9M37.7,317.1L175.9,255.9M37.7,317.6L175.9,248.8M37.7,251.5L175.9,327.5M37.7,256.5L175.9,328.1M37.7,262.6L175.9,328.9M37.7,267.9L175.9,327.3M37.7,272.0L175.9,329.1M37.7,277.5L175.9,327.4M37.7,281.8L175.9,325.7M37.7,286.2L175.9,328.8M37.7,291.2L175.9,328.5M37.7,297.1L175.9,329.8M175.9,245.7L37.7,349.1M175.9,234.5L37.7,332.5M175.9,242.3L37.7,325.9M175.9,241.1L37.7,327.5M175.9,241.5L37.7,315.0M175.9,240.0L37.7,330.7M175.9,237.5L37.7,329.0M175.9,246.1L37.7,338.9M175.9,240.9L37.7,337.7M175.9,238.8L37.7,322.1M175.9,232.1L37.7,324.7M175.9,242.8L37.7,345.9M175.9,246.9L37.7,332.9M175.9,249.8L37.7,331.2M85.9,247.0L175.9,326.5M81.0,247.0L175.9,329.9M56.8,247.0L175.9,325.0M74.1,247.0L175.9,327.2M59.8,247.0L175.9,324.0M61.4,247.0L175.9,326.6M62.3,247.0L175.9,329.2M72.1,247.0L175.9,328.4M89.4,247.0L175.9,328.5M67.1,247.0L175.9,328.5M37.7,359.7L175.9,430.9M37.7,358.1L175.9,423.8M37.7,356.5L175.9,427.3M37.7,354.3L175.9,428.5M37.7,352.9L175.9,426.7M37.7,351.4L175.9,421.5M37.7,350.7L175.9,413.2M37.7,348.4L175.9,424.6M37.7,347.1L175.9,407.0M37.7,344.9L175.9,412.4M37.7,344.1L175.9,401.6M37.7,342.4L175.9,415.7M37.7,341.0L175.9,405.5M37.7,338.9L175.9,395.8M37.7,337.6L175.9,415.4M37.7,335.6L175.9,401.2M37.7,401.6L175.9,326.4M37.7,397.6L175.9,328.8M37.7,391.2L175.9,328.4M37.7,387.9L175.9,325.0M37.7,382.0L175.9,327.8M37.7,377.0L175.9,325.6M37.7,372.7L175.9,326.1M37.7,366.6L175.9,325.1M37.7,362.5L175.9,326.3M37.7,357.5L175.9,326.6M175.9,418.9L37.7,311.4M175.9,406.4L37.7,327.5M175.9,418.0L37.7,305.3M175.9,409.3L37.7,309.5M175.9,421.5L37.7,307.5M175.9,410.8L37.7,327.9M175.9,414.2L37.7,312.3M175.9,407.9L37.7,332.4M175.9,410.7L37.7,333.2M175.9,404.5L37.7,323.5M175.9,405.6L37.7,313.5M175.9,411.1L37.7,329.8M175.9,412.5L37.7,334.1M175.9,419.5L37.7,313.9M59.9,407.0L175.9,325.5M53.2,407.0L175.9,325.7M79.5,407.0L175.9,328.2M45.9,407.0L175.9,327.6M67.1,407.0L175.9,329.4M50.3,407.0L175.9,329.7M72.9,407.0L175.9,324.7M51.9,407.0L175.9,329.8M78.7,407.0L175.9,325.1M93.0,407.0L175.9,326.3" stroke="#3c8cff" stroke-width="1.0" opacity="0.17" fill="none" filter="url(#bl1)"/>
<path d="M37.7,249.4L175.9,328.0M37.7,257.5L175.9,327.6M37.7,266.4L175.9,326.7M37.7,277.0L175.9,326.6M37.7,284.7L175.9,326.2M37.7,296.3L175.9,326.9M37.7,304.3L175.9,326.1M37.7,313.9L175.9,326.5M37.7,322.4L175.9,328.2M37.7,333.0L175.9,325.6M37.7,341.2L175.9,328.1M37.7,348.3L175.9,326.6M37.7,358.3L175.9,328.3M37.7,366.6L175.9,328.1M37.7,377.0L175.9,326.0M37.7,386.7L175.9,325.5M37.7,392.6L175.9,327.5M37.7,401.2L175.9,326.6" stroke="#3070ff" stroke-width="1" opacity="0.22" fill="none" filter="url(#bl1)"/>
<path d="M34.7,176.8L89.9,176.7M34.7,189.0L120.9,187.6M34.7,197.3L118.3,195.9M34.7,206.7L89.4,205.4M34.7,214.8L110.2,215.5M34.7,226.2L118.5,226.7M34.7,236.2L109.9,237.6" stroke="#0018e0" stroke-width="3.5" opacity="0.55" fill="none" filter="url(#bl2)"/>
<path d="M34.7,171.8L104.4,170.5M34.7,184.5L118.3,184.0M34.7,195.5L117.1,195.6M34.7,203.8L108.8,203.5M34.7,212.8L129.9,212.6M34.7,224.1L123.2,224.8M34.7,235.7L124.8,235.0" stroke="#2a70ff" stroke-width="2.5" opacity="0.4" fill="none" filter="url(#bl2)"/>
<path d="M83.3,249.0Q94.7,205.0 118.0,169.0M89.8,249.0Q101.1,205.7 124.4,170.4M94.7,249.0Q106.8,207.2 130.9,173.3M99.7,249.0Q112.5,209.1 137.3,177.3M103.1,249.0Q117.4,211.6 143.8,182.1M108.2,249.0Q123.2,214.4 150.2,187.7M114.6,249.0Q129.6,217.5 156.7,194.1M118.9,249.0Q135.0,221.1 163.1,201.1M123.7,249.0Q140.6,224.9 169.6,208.8M130.0,249.0Q147.0,229.0 176.0,217.0" stroke="#4aa0ff" stroke-width="0.9" opacity="0.33" fill="none" filter="url(#bl05)"/>
<path d="M34.7,226.0Q100.0,222.0 175.9,190.0M34.7,228.2Q100.0,224.2 175.9,193.5M34.7,230.4Q100.0,226.4 175.9,197.0M34.7,232.6Q100.0,228.6 175.9,200.5M34.7,234.8Q100.0,230.8 175.9,204.0M34.7,237.0Q100.0,233.0 175.9,207.5M34.7,239.2Q100.0,235.2 175.9,211.0M34.7,241.4Q100.0,237.4 175.9,214.5M34.7,243.6Q100.0,239.6 175.9,218.0M34.7,245.8Q100.0,241.8 175.9,221.5" stroke="#3a8cff" stroke-width="0.9" opacity="0.3" fill="none" filter="url(#bl1)"/>
<path d="M114.5,214.0q1.2,-0.7 2.4,-0.6M155.8,242.5q0.8,0.0 1.5,-1.1M161.5,177.9q0.8,-0.2 1.6,-0.2M131.4,181.5q1.5,0.6 3.1,-0.0M130.8,205.4q1.0,0.1 2.0,-0.7M133.0,234.5q1.7,0.2 3.4,-1.1M152.4,207.3q1.7,0.4 3.5,-0.0M155.4,214.4q1.6,0.7 3.3,-0.8M121.7,201.0q1.3,-0.8 2.5,-0.7M147.6,174.5q1.6,0.3 3.1,-0.8M130.5,199.6q1.1,0.5 2.2,-0.5M144.6,183.0q1.7,-0.3 3.3,-0.7M116.3,250.3q1.2,0.8 2.5,0.1M172.0,237.1q1.7,0.8 3.4,-0.1M120.3,213.4q1.3,1.0 2.7,-0.1M155.5,231.5q1.1,0.9 2.2,-0.3M136.9,208.6q1.7,0.1 3.5,-1.0M121.2,226.7q1.3,0.8 2.6,-0.9M137.4,230.0q0.8,-0.8 1.6,-0.4M128.4,179.7q1.0,0.3 2.0,-0.5M116.9,176.9q1.6,0.3 3.2,-1.0M165.3,172.8q1.1,0.7 2.2,-0.2M129.6,243.2q1.3,0.7 2.7,0.0M138.3,225.7q1.3,0.9 2.6,-0.1M156.9,236.9q1.7,-0.5 3.5,-0.9M158.2,233.4q1.3,-0.0 2.5,-0.6M166.6,235.5q1.3,-0.9 2.7,-0.0M140.4,186.4q1.0,0.4 2.1,-1.2M119.4,195.5q1.6,0.5 3.3,0.2M145.6,217.3q1.3,0.1 2.6,-0.4M162.7,248.2q1.2,0.3 2.3,-0.8M130.7,212.0q1.3,0.1 2.7,0.2M122.1,222.6q1.7,0.5 3.5,-0.4M134.8,203.6q1.7,0.8 3.4,-0.3M167.6,245.9q1.6,-0.2 3.2,-0.5M161.3,201.2q1.5,-0.0 3.0,-0.7M140.2,180.4q1.1,-0.2 2.2,-1.2M122.7,192.1q1.6,0.2 3.2,-0.8M173.8,191.9q1.3,0.5 2.5,-0.2M138.8,233.9q1.2,0.4 2.5,-0.5M172.1,229.0q0.8,-0.7 1.7,0.2M126.2,173.1q1.0,-0.0 2.0,0.1M136.7,229.6q1.6,-0.8 3.2,-0.3M173.6,215.5q1.3,-0.3 2.6,0.1M172.0,179.4q1.3,-0.2 2.6,-0.3M119.3,192.5q1.0,-0.0 2.1,-0.1M165.1,234.7q1.4,-0.8 2.9,-0.7M153.4,194.8q1.3,0.8 2.5,-1.0M164.9,179.6q1.1,0.8 2.3,-0.9M144.2,204.7q1.6,1.0 3.3,-0.8M142.5,243.5q1.3,-0.6 2.6,-0.1M132.9,210.4q0.8,1.0 1.5,-0.3M169.3,249.5q1.0,0.1 2.0,-0.6M159.0,239.2q1.0,-0.5 2.0,-0.2M137.5,181.5q0.9,0.1 1.9,-0.4M171.4,214.2q1.4,-0.7 2.7,-0.6M129.3,227.3q1.0,-0.6 2.0,-0.7M141.1,198.4q1.4,-0.6 2.7,0.0M155.0,214.3q0.8,-0.3 1.6,-0.2M151.9,236.8q1.6,-0.4 3.3,-0.5M132.4,181.4q0.9,-0.5 1.8,-1.1M145.4,227.9q1.3,0.4 2.6,-0.9M124.3,217.0q1.6,-0.2 3.3,-1.2M113.2,195.7q1.4,-0.8 2.7,-0.9M154.1,250.8q1.1,0.2 2.2,-0.5M113.4,197.7q0.9,-0.5 1.8,-0.1M154.2,174.3q0.8,0.4 1.7,-1.1M131.6,192.8q0.8,-0.9 1.6,-1.0M136.7,246.6q1.4,-0.5 2.8,-0.2M128.9,212.7q1.1,0.9 2.1,-0.7M161.7,222.9q1.6,0.2 3.2,0.0M137.1,226.0q1.4,0.1 2.7,-0.4M145.2,202.9q1.6,0.3 3.3,-0.4M115.3,212.2q0.9,-0.6 1.9,-0.6M145.8,191.3q1.0,0.1 2.0,-0.5M137.0,179.4q1.1,0.3 2.2,-0.4M145.7,239.3q1.5,0.4 2.9,-1.2M131.1,226.3q0.9,0.8 1.8,-1.0M166.4,188.5q1.6,0.7 3.2,-0.7M167.0,183.9q1.6,-0.2 3.2,-0.6M119.3,219.7q1.0,0.3 2.0,-0.1M149.4,171.7q1.7,0.8 3.4,-0.3M135.5,216.5q1.6,-0.1 3.3,-0.1M149.1,205.2q1.7,-0.2 3.4,-0.4M115.3,209.1q0.8,0.4 1.6,-1.2M114.6,180.0q0.9,0.0 1.8,-0.7M128.8,250.7q1.7,0.3 3.3,-0.1M162.7,190.9q1.6,-0.5 3.1,-0.4M134.1,183.9q1.5,0.8 3.1,-0.8M166.5,199.0q1.4,1.0 2.8,-0.1M115.4,206.2q1.1,-0.4 2.3,-0.1M139.3,227.6q1.4,0.0 2.8,-1.1M153.7,243.2q0.9,0.3 1.8,-0.5M133.1,228.5q1.7,-1.0 3.5,0.1M135.7,238.5q0.9,0.4 1.8,-1.1M132.8,249.6q1.4,0.6 2.8,-0.6M141.2,210.9q1.5,0.4 3.0,-0.9M139.3,214.9q1.3,0.9 2.6,-0.0M121.3,201.5q0.9,-0.9 1.7,-1.1M123.3,233.1q1.4,0.6 2.8,-0.8M121.6,249.7q1.6,0.9 3.2,-1.2M136.5,222.3q1.5,0.8 3.0,-0.4M136.2,171.4q1.6,1.0 3.1,0.1M153.0,198.7q1.0,0.6 2.0,0.1M171.4,185.2q1.3,0.0 2.7,-0.6M161.2,246.8q1.5,0.4 2.9,-0.2M152.5,214.5q1.0,0.6 2.0,-1.0M151.9,202.3q1.3,0.3 2.6,-0.5M172.5,190.4q0.8,0.9 1.5,-0.8M129.2,204.7q1.3,1.0 2.7,-0.2M131.7,214.3q1.2,0.0 2.4,-0.6M122.4,203.0q1.1,-0.6 2.3,-0.1M134.3,183.3q1.3,0.7 2.6,-0.1M150.5,230.2q1.1,-0.7 2.2,-0.8M133.6,193.6q1.2,-0.7 2.4,-1.0M127.6,186.9q1.6,0.1 3.1,-0.9M138.6,241.6q1.3,0.1 2.7,-0.7M124.1,221.7q0.8,0.6 1.7,-1.1M158.2,202.0q1.4,0.2 2.9,-1.0M145.3,177.0q1.0,-0.2 2.0,-0.8M153.0,250.9q1.1,0.7 2.2,-0.9M155.9,199.2q1.3,-0.8 2.6,-0.0M124.9,208.5q1.0,0.6 2.1,-0.4M150.1,232.1q1.0,-0.9 2.0,-0.0M131.5,236.8q1.7,0.3 3.4,-1.1M164.9,222.3q1.0,-0.6 2.0,-0.5M119.5,244.4q1.5,0.6 2.9,-0.7M169.1,181.9q1.5,-0.5 2.9,-1.2M119.5,187.3q1.5,-0.2 3.0,-0.5M150.0,192.7q1.4,0.3 2.8,0.1M143.1,240.3q1.7,0.5 3.4,-0.6M128.8,178.9q1.6,-0.7 3.2,-0.4M140.1,174.6q1.0,0.6 1.9,-0.4M169.2,244.5q0.8,0.4 1.7,-1.1M138.2,206.8q1.7,0.2 3.4,-0.9M143.6,213.3q0.9,-0.3 1.9,0.0M172.8,233.9q0.8,0.8 1.6,-0.6M163.6,185.3q0.9,0.8 1.8,-0.8M114.7,211.6q1.7,0.7 3.5,-0.6M173.5,235.5q1.6,0.3 3.2,-0.6M168.1,209.1q1.7,0.1 3.4,0.1M141.5,205.6q1.3,-0.4 2.7,-1.0M148.5,239.9q1.0,0.7 2.1,-0.1M160.0,204.6q1.7,0.6 3.5,-0.4M119.0,217.5q0.8,0.8 1.5,-0.7M134.8,215.6q1.4,0.2 2.8,-0.5M151.3,239.6q1.2,0.0 2.4,-0.1M112.2,184.0q1.1,-0.6 2.2,0.1M121.2,179.7q1.1,0.0 2.1,-0.0M173.6,240.0q1.4,-0.9 2.7,-1.1M151.0,237.4q1.0,0.9 2.0,-0.4M147.5,221.1q0.8,-0.7 1.6,0.1M128.5,177.7q1.0,0.5 2.1,-0.8M125.0,193.4q1.2,0.5 2.5,-0.8M166.1,250.0q1.6,-0.8 3.1,-0.8M169.3,240.6q0.9,-0.1 1.8,-0.7M158.3,173.3q1.1,0.5 2.1,0.0M114.5,218.7q1.4,0.7 2.8,-0.6M172.2,187.0q0.9,-0.7 1.7,-0.4M119.6,192.6q0.9,-0.9 1.9,0.1M132.7,249.1q1.5,-0.6 2.9,0.1M112.6,250.5q0.8,-0.5 1.6,-0.4M112.6,232.9q0.8,0.6 1.7,-1.2M144.7,188.0q1.0,-0.0 2.1,-0.7M136.3,223.9q0.9,-0.6 1.9,-0.2M130.4,246.6q1.2,-0.1 2.4,-1.2M113.3,179.5q1.4,0.3 2.8,0.1M138.8,228.3q1.1,-0.9 2.2,-0.6M155.4,236.1q1.7,0.7 3.4,-0.4M146.1,211.6q1.2,0.4 2.5,-0.4M165.1,207.5q1.2,0.7 2.4,-0.3M144.5,216.6q1.6,0.2 3.1,-0.8M131.2,220.0q0.8,-0.1 1.6,0.0M126.4,207.0q1.4,0.9 2.9,-0.2M150.7,202.1q1.2,0.3 2.4,-0.7M160.6,171.7q1.5,0.5 3.0,-0.8M112.9,198.4q1.3,0.6 2.7,0.0M124.9,177.6q0.9,1.0 1.7,-0.3M119.9,227.0q1.7,0.2 3.4,-0.9M171.6,227.7q0.9,0.5 1.9,-0.5M147.5,200.6q1.0,-0.2 2.1,-0.5M140.6,241.2q0.8,-0.6 1.6,0.1M149.6,221.0q1.4,-0.5 2.8,-0.6M125.0,183.3q1.7,0.5 3.5,0.0M112.1,228.1q1.1,-0.0 2.1,-0.3M113.9,201.0q1.3,0.7 2.6,-0.5M131.7,219.9q1.3,-0.4 2.7,-0.4M129.1,171.9q1.1,-0.8 2.1,-0.5M143.0,241.5q1.5,0.5 3.0,0.2M128.4,201.2q1.0,-0.8 2.0,-0.5M143.7,181.5q1.7,1.0 3.3,-1.1M112.2,176.0q1.5,0.7 3.0,-1.1M112.6,214.6q1.1,-1.0 2.2,-1.2M125.1,187.2q1.0,0.1 2.1,-0.8M126.5,188.1q1.6,-0.5 3.3,-0.4M140.0,197.8q1.2,-1.0 2.3,-0.9M151.6,232.7q1.0,-0.6 1.9,0.1M118.1,235.4q1.6,-0.7 3.3,-0.0M121.3,174.5q1.0,-0.3 2.1,-0.4M139.4,235.3q1.4,-0.8 2.8,-0.9M158.2,180.4q1.7,0.6 3.4,-0.9M129.7,191.4q1.2,-0.5 2.3,-1.2M127.6,186.8q1.1,-0.1 2.2,0.0M152.8,220.9q1.6,-0.2 3.2,-0.6M127.1,238.2q1.6,0.8 3.3,-0.4M119.0,176.9q1.5,0.8 3.1,-0.5M169.0,246.4q1.5,-0.3 3.0,-0.6M133.8,203.1q1.2,-1.0 2.4,-1.0M122.4,216.9q1.6,0.4 3.2,-1.0M140.3,221.8q0.9,-0.8 1.8,-0.3M126.6,223.2q0.9,0.7 1.8,-0.8M138.5,215.5q1.6,0.8 3.3,-0.0M154.4,176.6q0.9,0.1 1.9,0.2M156.9,186.5q1.1,0.9 2.2,-0.5M165.9,240.5q1.5,0.3 3.1,-0.3M133.2,180.8q1.7,-0.9 3.4,-0.8M150.0,249.2q1.0,-0.5 1.9,-0.0M132.2,203.6q1.1,-0.9 2.2,0.1M155.2,171.6q0.8,-0.7 1.7,-0.7M167.1,182.4q1.0,-0.4 2.0,-0.5M167.8,214.7q1.7,0.1 3.3,-0.6M165.9,218.0q1.2,0.0 2.4,-0.7M138.8,177.0q1.0,0.5 1.9,-1.0M124.9,184.3q1.1,-0.9 2.2,-0.7M149.7,225.9q1.6,-0.8 3.2,-0.3M124.2,198.7q1.3,0.7 2.7,-0.3M173.0,172.5q1.1,-0.0 2.1,-1.1M115.2,200.7q1.3,-0.7 2.6,-1.1M131.7,231.1q1.3,1.0 2.6,-0.4M167.1,217.4q1.2,-0.2 2.5,-1.1M115.9,224.3q1.6,-1.0 3.2,-0.9M132.3,196.4q1.6,-0.5 3.2,-0.8M142.2,248.0q1.0,0.3 2.1,-1.1M138.7,246.1q1.0,-0.3 1.9,-0.3M147.0,217.7q1.4,0.4 2.7,-0.7M133.8,203.2q1.3,0.1 2.5,0.0M136.5,207.4q1.6,0.9 3.2,-0.9M157.2,191.1q1.5,-0.9 3.0,-0.5M147.3,227.7q1.7,0.6 3.3,-0.4M142.8,172.1q1.3,0.1 2.6,-0.2M122.2,218.7q0.8,0.5 1.6,-0.0M139.1,226.7q1.4,-0.4 2.8,-1.1M158.9,199.9q0.9,-0.1 1.8,-0.0M171.1,217.0q1.7,-0.7 3.4,-0.5M112.5,190.0q1.6,-0.9 3.3,-0.3M143.5,251.0q1.7,-0.8 3.5,-0.8M173.4,197.7q0.9,0.8 1.9,-0.3M131.1,215.9q1.2,-0.1 2.4,-0.4M122.5,220.9q1.7,0.2 3.4,-0.1M129.5,183.5q0.8,1.0 1.5,-1.0M135.5,224.0q1.5,0.2 3.0,-0.6M162.4,206.8q1.6,-0.9 3.2,-0.2M118.0,202.4q1.2,-0.6 2.4,-0.6M164.8,173.9q0.9,1.0 1.9,-0.6M136.1,244.9q1.5,-0.7 3.1,-0.4M123.2,233.8q1.3,0.6 2.6,-1.1M169.4,189.6q1.6,-0.1 3.2,0.0M118.3,175.4q1.2,0.9 2.4,-0.5M143.4,184.3q1.3,-0.1 2.6,0.0M157.9,209.7q0.9,-0.7 1.8,0.2M149.8,189.2q1.6,-0.6 3.1,-0.6M166.3,179.4q0.9,-0.9 1.7,-1.0M135.2,197.1q1.0,-1.0 2.1,-0.5M139.6,231.0q1.1,0.2 2.1,-0.8M158.6,185.1q1.2,-0.1 2.5,-0.6M145.3,214.4q1.1,0.6 2.1,0.1M146.6,222.5q1.5,-0.4 2.9,-0.4M140.6,210.2q1.1,0.1 2.3,-0.9M126.9,187.2q1.3,-0.5 2.7,-0.1M168.0,232.5q1.1,0.9 2.2,-0.7M134.4,219.2q1.4,-0.2 2.8,-0.1M164.8,194.4q1.0,-0.2 1.9,-0.2M153.5,185.2q1.1,0.8 2.3,0.1M149.4,234.2q1.6,-0.6 3.2,-1.1M149.8,202.2q1.5,-0.4 2.9,-0.6M162.0,178.6q1.2,-0.7 2.3,-0.5M157.4,251.0q1.5,-0.7 3.0,-0.6M145.6,222.7q1.5,0.9 2.9,0.1M124.9,183.8q1.7,-0.7 3.4,0.2M119.4,218.4q0.9,-0.7 1.8,-0.7M161.1,227.9q1.1,-0.7 2.1,-0.7M122.8,190.0q1.2,-0.0 2.5,0.1M117.6,214.2q1.3,-0.7 2.6,-0.7M120.5,243.4q1.1,-0.9 2.2,-0.5M144.7,242.9q1.5,-0.6 2.9,0.1M112.3,227.5q0.8,0.6 1.6,-0.9M161.4,236.9q1.5,-0.8 3.0,-0.6M118.5,229.2q1.7,0.0 3.5,-0.3M153.3,182.6q1.1,-0.3 2.2,-0.1M137.5,200.8q1.3,-0.6 2.6,-1.1M126.7,172.7q1.4,-0.1 2.8,-0.3M147.1,175.4q1.6,0.6 3.1,-1.2M138.6,234.6q1.2,0.7 2.3,-0.2M152.9,244.4q1.5,0.2 3.1,-1.1M140.1,226.8q1.3,0.2 2.5,-0.7M164.1,190.9q1.4,-0.1 2.8,-1.0M113.2,181.5q1.0,-0.1 2.1,-1.2M116.2,235.5q1.7,-0.1 3.5,-0.5M149.3,178.8q1.3,0.3 2.6,0.1M151.8,215.1q1.2,0.8 2.3,-0.5M141.6,230.4q1.2,-0.9 2.4,-0.4M165.6,200.9q0.8,-0.8 1.7,0.1M118.9,224.0q0.8,0.0 1.7,0.1M126.5,195.9q1.4,0.1 2.7,-0.4M136.3,174.3q1.3,-0.4 2.7,-0.3M139.1,192.8q1.7,-0.4 3.5,0.2M141.6,214.3q1.0,-0.7 2.0,-0.2M140.2,218.4q0.9,0.0 1.9,-0.3M159.0,225.0q1.2,0.4 2.3,-0.4M141.6,222.1q1.1,-0.9 2.1,-1.0M172.2,243.3q1.6,-0.5 3.2,-0.0M160.9,214.8q1.1,-0.8 2.1,0.2M173.8,239.9q1.2,0.5 2.4,0.1M145.5,181.1q1.7,0.1 3.5,-0.1M150.5,176.2q1.2,-1.0 2.4,-0.8M171.5,227.0q1.3,-0.8 2.6,-0.2M149.5,222.6q1.4,0.9 2.9,-0.6M149.8,213.9q1.3,0.4 2.7,-0.9M115.4,180.4q0.8,0.1 1.6,-0.8M160.6,184.1q0.9,0.7 1.8,-1.1M133.8,226.9q1.3,-0.5 2.6,-1.0M147.8,191.1q1.6,-0.5 3.2,0.1M113.3,220.5q1.0,-0.1 2.1,-0.6M162.1,186.0q1.5,-0.9 3.0,-0.3M163.0,205.8q1.6,-0.3 3.2,-0.7M168.4,251.2q1.5,-0.5 3.1,0.1M134.6,241.3q1.1,-0.6 2.1,-0.8M154.8,250.3q1.3,-0.8 2.5,-0.2M167.6,234.3q0.8,-0.4 1.5,-0.1M155.4,251.7q1.6,0.6 3.3,-0.2M135.6,173.8q1.5,-0.1 3.0,0.0M120.2,240.4q1.4,0.8 2.8,-0.2M139.0,212.8q0.8,-0.5 1.7,-0.4M123.0,200.0q1.4,0.2 2.8,0.1M138.8,215.8q1.2,0.5 2.3,-0.3M170.5,182.5q0.9,-0.4 1.8,-0.3M151.5,187.3q1.0,0.2 2.0,-0.8M163.4,179.6q1.5,-0.7 3.1,-0.2M160.4,247.4q1.7,-1.0 3.3,-0.3M168.4,233.4q1.2,0.5 2.4,-0.8M161.7,203.9q1.7,-0.9 3.4,-0.4M120.0,233.1q1.7,-0.0 3.4,-0.0M126.4,173.3q1.6,-0.2 3.1,-1.1M153.6,244.0q0.8,0.2 1.7,-0.7M114.6,176.9q0.8,-0.4 1.6,-0.8M145.3,221.3q1.6,0.7 3.2,-1.0M150.9,242.0q1.0,0.2 2.0,0.2M151.3,227.8q1.1,1.0 2.1,-0.0M132.0,195.4q0.8,-0.0 1.5,0.0M160.6,183.0q1.0,-0.7 2.0,-0.8M124.5,184.4q1.3,0.8 2.6,-0.0M150.5,196.6q1.7,-0.6 3.3,-1.1M125.4,235.0q1.5,-0.4 2.9,-0.9M151.4,212.4q1.5,-0.1 3.1,-1.1M116.4,189.7q1.3,0.4 2.5,-0.4M112.6,248.2q1.2,0.1 2.4,-0.9M127.1,188.3q1.4,0.8 2.7,-0.8M133.6,194.3q0.8,-1.0 1.6,-0.1M172.5,174.4q0.8,-0.1 1.7,-0.8M127.3,241.5q0.9,-0.6 1.9,0.1M150.6,226.6q1.4,-0.9 2.8,0.2M113.8,189.4q1.2,0.7 2.5,0.1M112.5,182.2q0.8,-0.7 1.5,0.1M117.2,214.7q0.9,-1.0 1.9,-0.8M128.0,215.0q1.6,0.1 3.2,-0.5M129.3,185.6q1.2,-0.2 2.5,0.1M124.9,173.1q0.8,-0.4 1.6,-0.9M136.6,242.3q1.5,0.2 3.0,-0.0M166.4,176.3q1.4,-0.7 2.9,-0.6M136.1,193.0q0.8,-0.6 1.6,-0.2M171.3,244.7q0.8,0.1 1.5,-0.9M144.2,214.2q0.9,-0.8 1.8,-0.5M115.3,239.1q1.6,-1.0 3.3,-0.1M163.9,174.2q1.3,-0.1 2.7,-1.0M162.7,216.9q1.6,0.9 3.1,0.2M153.0,241.7q0.8,-0.3 1.6,-0.5M143.7,200.8q1.6,0.2 3.1,-0.0M139.4,247.3q1.1,1.0 2.2,-0.4M135.4,221.3q0.9,0.4 1.7,-0.4M161.8,177.1q1.2,0.2 2.3,-1.1" stroke="#4a98ff" stroke-width="1.3" opacity="0.42" fill="none" filter="url(#bl1)"/>
<path d="M59.4,248.0Q89.8,204.6 120.2,169.0" stroke="#90f0ff" stroke-width="0.8" opacity="0.80" fill="none" filter="url(#bl05)"/>
<path d="M60.6,248.0Q92.0,204.6 123.8,169.0" stroke="#5ab8ff" stroke-width="0.8" opacity="0.48" fill="none" filter="url(#bl05)"/>
<path d="M61.1,248.0Q93.7,204.6 126.9,169.0" stroke="#5ab8ff" stroke-width="0.8" opacity="0.46" fill="none" filter="url(#bl05)"/>
<path d="M62.2,248.0Q96.1,204.6 130.9,169.0" stroke="#5ab8ff" stroke-width="0.8" opacity="0.44" fill="none" filter="url(#bl05)"/>
<path d="M63.4,248.0Q98.8,204.6 135.3,169.0" stroke="#5ab8ff" stroke-width="0.8" opacity="0.42" fill="none" filter="url(#bl05)"/>
<path d="M63.6,248.0Q100.5,204.6 138.8,169.0" stroke="#5ab8ff" stroke-width="0.8" opacity="0.40" fill="none" filter="url(#bl05)"/>
<path d="M64.6,248.0Q103.2,204.6 143.6,169.0" stroke="#5ab8ff" stroke-width="0.8" opacity="0.38" fill="none" filter="url(#bl05)"/>
<path d="M66.2,248.0Q106.6,204.6 149.3,169.0" stroke="#5ab8ff" stroke-width="0.8" opacity="0.36" fill="none" filter="url(#bl05)"/>
<path d="M66.7,248.0Q109.2,204.6 154.5,169.0" stroke="#5ab8ff" stroke-width="0.8" opacity="0.34" fill="none" filter="url(#bl05)"/>
<path d="M67.0,248.0Q111.9,204.6 160.0,169.0" stroke="#5ab8ff" stroke-width="0.8" opacity="0.32" fill="none" filter="url(#bl05)"/>
<path d="M68.5,248.0Q115.9,204.6 167.2,169.0" stroke="#5ab8ff" stroke-width="0.8" opacity="0.30" fill="none" filter="url(#bl05)"/>
<path d="M69.7,248.0Q120.1,204.6 175.0,169.0" stroke="#5ab8ff" stroke-width="0.8" opacity="0.28" fill="none" filter="url(#bl05)"/>
<path d="M70.8,248.0Q121.1,207.5 175.9,174.4" stroke="#5ab8ff" stroke-width="0.8" opacity="0.26" fill="none" filter="url(#bl05)"/>
<path d="M70.5,248.0Q121.0,210.3 175.9,179.5" stroke="#5ab8ff" stroke-width="0.8" opacity="0.24" fill="none" filter="url(#bl05)"/>
<path d="M71.5,248.0Q121.5,213.6 175.9,185.4" stroke="#5ab8ff" stroke-width="0.8" opacity="0.22" fill="none" filter="url(#bl05)"/>
<path d="M73.3,248.0Q122.5,217.0 175.9,191.6" stroke="#5ab8ff" stroke-width="0.8" opacity="0.20" fill="none" filter="url(#bl05)"/>
<path d="M34.7,477.2L113.3,476.5M34.7,466.8L100.0,465.4M34.7,457.5L96.2,458.9M34.7,449.1L109.7,448.6M34.7,440.0L114.3,441.0M34.7,430.1L110.2,429.3M34.7,419.8L117.0,419.9" stroke="#0018e0" stroke-width="3.5" opacity="0.55" fill="none" filter="url(#bl2)"/>
<path d="M34.7,482.2L128.0,482.0M34.7,471.4L132.0,472.8M34.7,463.3L96.2,463.9M34.7,452.6L119.4,452.1M34.7,444.5L129.7,445.3M34.7,431.7L108.5,430.6M34.7,420.1L95.6,420.1M34.7,410.2L134.4,411.0" stroke="#2a70ff" stroke-width="2.5" opacity="0.4" fill="none" filter="url(#bl2)"/>
<path d="M83.3,405.0Q94.7,449.0 118.0,485.0M88.0,405.0Q100.2,448.3 124.4,483.6M94.1,405.0Q106.5,446.8 130.9,480.7M99.2,405.0Q112.3,444.9 137.3,476.7M103.3,405.0Q117.6,442.4 143.8,471.9M109.7,405.0Q123.9,439.6 150.2,466.3M113.4,405.0Q129.1,436.5 156.7,459.9M119.9,405.0Q135.5,432.9 163.1,452.9M124.3,405.0Q141.0,429.1 169.6,445.2M129.9,405.0Q147.0,425.0 176.0,437.0" stroke="#4aa0ff" stroke-width="0.9" opacity="0.33" fill="none" filter="url(#bl05)"/>
<path d="M34.7,428.0Q100.0,432.0 175.9,464.0M34.7,425.8Q100.0,429.8 175.9,460.5M34.7,423.6Q100.0,427.6 175.9,457.0M34.7,421.4Q100.0,425.4 175.9,453.5M34.7,419.2Q100.0,423.2 175.9,450.0M34.7,417.0Q100.0,421.0 175.9,446.5M34.7,414.8Q100.0,418.8 175.9,443.0M34.7,412.6Q100.0,416.6 175.9,439.5M34.7,410.4Q100.0,414.4 175.9,436.0M34.7,408.2Q100.0,412.2 175.9,432.5" stroke="#3a8cff" stroke-width="0.9" opacity="0.3" fill="none" filter="url(#bl1)"/>
<path d="M139.1,415.1q1.4,0.4 2.7,0.6M143.7,461.0q1.1,0.9 2.2,1.1M163.5,422.3q0.9,-0.1 1.8,0.0M143.5,441.9q1.3,-0.7 2.5,-0.2M158.3,459.9q1.1,0.4 2.2,-0.0M146.1,459.8q1.1,0.1 2.2,-0.0M155.6,464.7q0.8,0.3 1.5,0.8M166.3,470.0q1.7,0.6 3.5,0.8M113.0,416.5q0.9,-0.7 1.7,0.7M122.7,475.3q1.3,0.3 2.6,0.1M115.6,478.8q1.2,0.5 2.4,0.9M148.9,474.0q1.6,0.7 3.3,-0.1M136.1,476.3q1.6,-0.1 3.1,0.7M138.5,425.6q1.5,-0.1 3.0,0.8M121.3,478.7q1.7,0.9 3.4,1.1M148.7,404.2q1.3,0.9 2.7,1.0M156.5,414.9q0.9,-0.6 1.7,-0.1M126.4,433.1q1.7,0.4 3.3,0.1M130.5,414.2q0.9,-0.2 1.8,0.5M155.6,480.2q0.8,-0.3 1.7,1.0M168.3,447.1q1.3,-0.1 2.7,-0.0M169.3,410.1q0.8,0.2 1.7,0.1M168.8,438.0q1.2,-0.6 2.4,1.2M113.5,460.4q1.5,-0.2 2.9,0.4M128.8,404.2q1.7,-0.5 3.3,0.7M118.5,451.0q1.0,0.5 2.0,0.8M154.5,480.8q1.5,0.3 2.9,0.8M159.7,413.0q1.7,0.4 3.3,0.6M148.2,421.3q1.1,0.8 2.1,0.1M155.0,421.5q0.8,0.6 1.6,0.6M154.5,430.3q1.2,0.5 2.3,-0.0M173.6,481.6q1.7,0.6 3.3,0.4M159.2,454.8q1.2,-0.9 2.3,-0.1M162.0,441.2q1.4,0.6 2.7,1.0M147.3,424.4q1.3,1.0 2.7,0.8M154.1,419.9q1.1,0.9 2.3,0.6M121.1,469.2q1.1,1.0 2.3,-0.1M167.7,429.3q1.3,0.3 2.5,0.4M171.1,451.2q1.1,0.5 2.3,0.1M157.8,470.1q1.4,-0.5 2.8,0.8M127.8,482.3q0.9,0.3 1.7,0.1M118.6,406.3q1.2,0.6 2.4,1.1M116.9,417.0q0.8,-0.9 1.7,0.3M114.7,449.4q1.6,-0.8 3.1,0.0M168.3,404.0q1.4,0.6 2.7,1.0M147.5,412.1q1.6,-0.7 3.2,0.0M136.6,441.5q1.5,0.3 3.1,0.7M165.0,407.6q1.6,-0.9 3.1,1.2M147.6,474.9q0.8,0.7 1.7,1.1M129.4,458.3q1.7,0.9 3.4,0.1M140.4,473.5q1.7,-0.6 3.4,0.3M160.2,441.7q1.6,0.9 3.3,0.7M155.9,475.4q1.2,0.3 2.4,0.8M135.1,421.5q1.0,0.8 1.9,1.0M125.8,433.2q1.0,0.7 2.0,0.7M119.9,428.8q1.2,0.2 2.4,1.0M115.3,459.1q1.3,-0.6 2.5,0.9M163.8,463.4q1.1,0.7 2.2,-0.2M159.8,471.6q1.5,-0.8 3.0,0.1M129.1,465.2q1.2,-0.7 2.4,0.3M163.0,429.0q1.5,-0.7 3.1,0.8M163.8,456.6q1.5,0.1 3.0,1.0M125.7,408.2q1.7,0.2 3.3,1.2M113.0,407.0q1.5,0.4 3.1,0.8M168.2,477.1q1.4,0.4 2.9,0.7M162.3,467.6q1.7,0.9 3.4,0.7M132.4,418.6q1.1,0.2 2.2,0.2M170.5,421.9q1.0,-0.3 2.1,1.1M161.8,414.6q1.0,-0.1 1.9,0.7M129.5,480.6q1.3,0.9 2.7,1.0M158.7,420.4q1.3,0.7 2.6,0.6M150.5,477.5q0.9,0.2 1.8,0.0M141.3,407.4q1.2,-0.2 2.5,0.1M169.0,410.0q1.4,-0.6 2.8,0.8M146.5,480.1q1.0,0.6 2.1,0.8M152.1,458.4q0.9,-0.3 1.8,0.8M129.2,457.8q1.7,0.1 3.3,0.5M128.4,459.5q1.5,-0.3 3.1,1.0M136.0,428.5q1.7,0.7 3.4,0.5M122.4,411.2q0.8,0.2 1.6,-0.2M131.6,440.6q1.1,-0.2 2.1,1.0M150.2,426.2q0.9,-1.0 1.8,0.9M133.9,447.8q1.5,0.0 2.9,1.2M113.2,447.1q0.9,0.6 1.8,0.2M161.8,433.0q1.0,0.6 1.9,0.8M122.2,479.8q1.1,0.9 2.3,0.2M152.9,452.2q1.2,0.8 2.4,-0.2M132.7,435.4q1.2,-0.6 2.5,0.5M117.5,418.5q1.2,0.3 2.3,0.1M126.6,406.2q1.7,-0.0 3.5,1.1M151.6,428.0q1.0,0.6 1.9,0.8M128.1,476.1q1.4,0.5 2.7,0.2M130.9,458.9q0.8,-0.6 1.6,0.8M124.9,479.6q1.1,-1.0 2.3,0.5M112.2,452.1q0.8,-0.7 1.7,0.2M116.5,419.8q1.4,0.3 2.9,0.5M156.7,465.2q1.2,-1.0 2.3,1.2M137.7,433.0q1.7,0.7 3.4,1.1M168.8,450.9q1.2,-0.7 2.3,1.1M140.0,438.9q1.6,0.3 3.2,0.9M148.9,416.5q1.0,-0.4 2.0,0.8M172.2,471.1q1.4,-0.3 2.8,0.2M143.0,465.3q1.6,0.1 3.2,1.2M125.5,469.3q1.1,-0.7 2.1,0.3M149.7,451.6q1.0,0.3 2.0,0.7M159.5,413.0q1.5,0.9 2.9,0.8M164.7,450.1q1.6,0.2 3.2,0.8M129.3,413.6q1.2,-0.7 2.5,0.4M120.8,478.0q1.0,0.6 2.0,0.9M165.4,479.7q1.1,-1.0 2.2,0.2M150.1,419.5q1.6,0.8 3.1,0.6M134.7,433.7q1.2,-0.6 2.5,0.6M136.2,411.0q0.8,0.5 1.7,0.2M168.6,437.0q1.5,-0.8 2.9,-0.0M115.2,433.7q0.9,-0.5 1.7,0.2M135.7,427.4q1.0,-0.8 1.9,0.7M143.3,417.4q1.6,-0.2 3.2,-0.1M146.9,468.1q1.3,0.4 2.5,0.1M119.4,404.2q1.3,-1.0 2.6,0.8M163.5,478.6q1.1,0.4 2.1,1.0M156.4,435.3q1.0,0.6 2.0,1.1M124.0,421.1q1.4,-0.6 2.7,0.7M164.5,469.0q0.8,-0.0 1.6,0.9M154.2,463.2q0.9,0.2 1.9,-0.1M145.9,404.7q1.7,0.5 3.5,0.4M135.0,476.6q1.3,-0.6 2.6,0.4M138.8,437.9q1.3,0.1 2.7,-0.1M146.3,473.5q1.6,0.5 3.3,0.7M139.5,437.5q1.1,0.3 2.3,-0.2M115.2,408.7q1.7,0.7 3.5,0.6M153.1,445.2q1.1,-0.7 2.2,0.9M141.5,460.1q1.0,0.2 1.9,0.8M163.5,475.9q1.0,-0.2 2.0,0.9M163.8,443.1q0.8,-0.6 1.6,0.2M131.1,458.7q1.0,-1.0 1.9,0.1M132.2,463.2q0.9,0.0 1.7,0.2M170.6,407.5q0.8,-0.0 1.5,0.5M146.0,448.5q1.7,0.2 3.4,0.6M171.6,441.1q0.8,0.3 1.5,-0.2M152.4,466.8q1.6,-0.9 3.2,0.0M120.3,414.9q0.9,-0.7 1.9,0.8M143.2,426.9q1.3,-0.9 2.5,-0.1M163.9,453.3q0.8,-0.2 1.6,-0.1M171.0,469.3q0.9,1.0 1.9,0.7M155.1,407.8q1.6,0.6 3.2,0.3M162.0,463.9q1.7,-0.6 3.3,1.0M159.6,402.7q1.5,0.2 3.0,1.1M144.7,468.5q1.3,-0.2 2.6,1.0M145.7,418.9q1.5,-0.7 2.9,-0.1M169.7,453.9q1.7,-0.6 3.5,0.6M164.1,476.0q1.1,-1.0 2.3,0.9M134.0,415.4q1.4,-0.8 2.8,0.1M159.0,458.2q0.9,0.5 1.8,-0.1M125.6,456.3q1.1,0.9 2.2,1.1M113.2,468.3q1.2,0.9 2.4,1.1M161.4,440.4q1.6,0.9 3.3,0.2M127.5,409.3q0.8,1.0 1.5,0.6M128.7,411.5q1.2,-0.2 2.5,0.8M137.9,462.9q1.3,-0.1 2.5,0.8M112.4,470.7q1.5,0.4 3.1,-0.1M121.2,408.0q1.6,-0.3 3.3,-0.1M172.9,414.5q1.3,0.7 2.6,1.0M120.2,471.8q1.4,0.9 2.9,0.9M120.5,411.3q1.6,-0.7 3.3,1.2M129.2,460.9q0.8,-0.7 1.5,0.0M115.9,446.0q1.5,0.4 2.9,0.8M120.3,448.5q1.1,-0.1 2.2,0.8M141.4,404.1q0.8,-0.5 1.5,0.0M142.9,419.5q0.8,1.0 1.7,1.2M160.7,463.1q1.5,0.6 2.9,0.2M171.1,465.0q1.6,0.2 3.2,0.9M125.5,475.7q1.7,-0.3 3.3,0.7M119.6,417.9q1.3,-0.6 2.6,0.1M145.2,418.8q1.5,-0.1 2.9,0.7M167.3,468.3q0.9,0.7 1.7,0.2M169.3,433.5q1.7,-0.1 3.5,1.1M153.2,462.6q1.1,-0.3 2.3,0.7M144.0,434.5q0.8,0.8 1.6,0.7M157.6,454.9q0.9,-0.3 1.7,0.9M130.8,428.9q1.4,-0.6 2.9,0.2M150.1,469.9q1.3,-0.9 2.7,0.3M128.4,435.3q1.7,0.4 3.4,0.4M147.3,462.9q1.2,-0.9 2.4,0.5M171.9,442.3q1.5,0.8 3.0,0.4M120.0,402.8q1.3,-0.1 2.5,1.1M156.8,414.4q1.3,-0.6 2.6,0.2M123.7,454.9q1.0,0.1 2.0,0.3M146.6,469.6q1.0,-0.6 2.0,0.5M171.7,429.9q1.6,-0.8 3.2,1.2M145.7,464.4q1.1,0.5 2.2,1.1M166.4,449.6q1.3,-0.9 2.7,1.1M153.7,479.9q1.4,-0.4 2.8,0.8M171.1,413.1q1.1,-0.2 2.1,0.8M119.4,405.8q1.4,0.4 2.8,0.6M124.9,431.9q1.0,0.8 2.0,-0.1M171.9,465.6q1.0,0.7 2.1,0.5M146.6,425.2q1.0,-0.1 1.9,1.1M113.9,404.6q1.5,0.2 2.9,0.9M130.3,408.5q1.7,0.3 3.5,-0.1M136.4,414.7q1.5,-0.6 3.0,-0.1M112.9,461.3q1.2,0.9 2.5,0.7M118.8,424.5q1.4,-0.8 2.8,0.2M136.0,448.9q1.7,0.7 3.4,-0.2M155.5,451.7q1.1,-0.7 2.2,1.1M143.7,470.1q1.3,-0.6 2.7,0.5M167.6,445.3q1.7,-0.4 3.3,1.0M155.8,447.9q1.4,0.2 2.8,0.6M134.5,465.4q1.7,-0.6 3.5,0.6M167.2,416.9q1.7,0.2 3.5,0.8M165.7,477.7q1.7,-0.1 3.4,0.2M167.3,441.0q1.6,0.7 3.1,0.5M168.4,462.9q0.9,0.4 1.8,0.0M137.5,480.6q1.2,-0.5 2.4,1.1M122.2,434.2q1.1,0.6 2.3,0.9M149.4,461.3q1.0,-0.7 2.1,0.2M129.4,428.7q1.4,0.1 2.9,0.3M154.2,475.1q1.5,0.0 3.0,0.1M118.9,478.3q1.4,-0.4 2.8,-0.2M131.0,446.5q1.1,0.1 2.2,0.9M171.4,460.8q1.7,1.0 3.3,0.7M162.6,410.4q0.8,0.9 1.6,0.7M133.0,417.9q0.9,-0.9 1.8,-0.2M113.1,431.3q1.3,-0.2 2.6,0.0M162.5,481.0q1.4,0.7 2.7,0.7M119.7,436.5q0.8,-0.2 1.5,0.5M125.3,435.6q1.6,-0.1 3.2,0.4M123.7,482.3q1.2,-0.5 2.4,0.3M118.2,446.3q1.3,0.6 2.5,1.1M167.0,470.5q1.7,0.6 3.3,-0.0M169.3,476.3q1.1,0.2 2.2,0.7M152.9,412.5q1.0,-0.4 1.9,-0.0M132.5,476.4q1.5,-0.4 3.0,0.4M116.1,437.2q1.6,-0.1 3.1,0.7M159.6,440.5q1.2,-0.7 2.4,0.2M163.3,483.0q1.1,0.3 2.1,1.0M165.1,472.1q1.0,-0.1 2.0,1.0M168.1,442.0q1.1,0.2 2.3,0.2M145.7,430.7q1.4,-0.1 2.9,0.8M119.8,429.3q1.1,0.9 2.3,0.8M160.4,447.3q0.9,-0.2 1.8,0.3M153.7,454.9q1.0,-0.7 2.0,0.4M154.1,410.0q1.2,-0.3 2.5,0.1M151.3,424.3q0.8,0.6 1.6,0.6M153.5,477.1q0.8,-0.9 1.5,1.1M117.4,413.2q1.3,-0.9 2.6,-0.2M138.7,427.8q1.4,-0.3 2.8,0.0M171.9,449.8q1.1,-0.2 2.2,0.0M143.1,474.8q0.8,0.3 1.5,1.0M159.5,434.4q1.0,-0.9 1.9,0.3M121.9,403.6q1.3,-0.3 2.5,0.1M150.2,429.6q1.5,-0.1 3.1,1.1M121.9,402.7q1.4,-1.0 2.7,1.0M118.6,462.2q1.4,0.9 2.8,0.4M142.9,408.3q0.9,0.8 1.8,0.3M126.6,420.8q0.9,0.2 1.8,0.6M118.6,407.1q0.9,-0.3 1.9,0.3M128.7,475.3q1.1,-0.2 2.1,0.1M145.7,408.3q0.9,0.7 1.8,-0.2M172.9,458.8q0.9,0.5 1.7,0.6M151.6,475.1q1.7,-0.2 3.4,-0.2M112.5,459.2q1.2,-0.3 2.4,0.9M172.7,438.6q1.7,0.0 3.4,0.1M151.7,471.8q1.4,0.5 2.9,0.2M142.4,479.1q1.6,0.9 3.2,1.1M114.6,448.0q1.5,-0.1 3.0,0.1M166.5,434.8q1.4,0.3 2.7,0.7M124.6,409.3q1.0,0.7 2.0,0.5M157.8,419.2q1.6,0.7 3.3,0.7M163.6,412.6q1.4,-0.6 2.8,-0.2M161.5,451.9q1.1,0.6 2.1,0.3M135.2,409.5q1.7,0.4 3.5,0.0M148.9,458.3q1.5,0.4 3.1,-0.0M133.5,407.0q1.4,0.5 2.9,0.0M140.2,415.0q1.6,0.9 3.3,0.4M115.8,463.4q0.9,-0.7 1.9,0.7M148.4,402.8q0.8,0.9 1.7,0.4M161.6,415.9q1.1,0.4 2.2,0.2M132.4,408.1q1.6,-1.0 3.3,0.0M135.9,405.4q0.8,0.7 1.6,0.5M129.1,443.2q1.6,-0.1 3.2,0.6M166.7,414.9q1.0,0.0 1.9,0.6M123.9,466.7q0.9,-0.7 1.7,0.6M127.7,424.3q0.8,-0.5 1.7,-0.1M147.3,468.1q1.6,-1.0 3.1,0.8M120.6,449.7q1.2,0.8 2.4,0.5M167.7,405.4q0.8,-0.8 1.6,0.1M130.2,445.5q1.4,-0.1 2.8,-0.0M113.7,461.7q0.8,-0.5 1.6,-0.2M113.8,438.9q1.0,0.5 1.9,1.0M158.0,440.9q1.7,-0.8 3.4,0.5M168.4,440.8q1.2,0.8 2.4,0.0M160.4,450.1q1.1,-0.4 2.2,-0.2M116.8,472.1q1.4,0.8 2.8,-0.2M149.7,413.3q1.1,0.0 2.2,0.1M122.8,426.1q1.2,-0.9 2.3,0.7M157.9,418.2q1.4,0.4 2.9,0.7M131.2,450.7q1.2,-0.3 2.4,-0.0M155.4,470.7q0.9,-0.0 1.8,0.3M155.0,448.4q1.3,0.2 2.7,0.8M161.9,455.1q0.9,-0.7 1.8,0.3M141.4,414.6q1.6,-0.5 3.3,0.1M154.3,437.4q1.7,-0.7 3.5,0.6M137.4,461.1q1.4,0.7 2.7,0.5M117.0,461.7q1.5,-0.1 2.9,1.1M127.7,440.1q1.1,-0.6 2.1,0.7M118.9,411.2q1.1,-0.1 2.1,0.5M139.8,408.3q0.9,-0.0 1.8,1.0M115.8,425.9q1.1,0.5 2.2,0.5M114.3,476.5q0.8,0.2 1.6,0.6M130.1,458.7q1.2,0.7 2.4,-0.0M163.0,422.6q0.9,-0.3 1.7,0.0M124.6,424.3q0.9,0.6 1.7,0.8M128.0,404.9q0.9,0.8 1.7,0.8M129.3,471.3q0.8,-0.2 1.6,0.6M131.4,482.4q1.6,0.7 3.3,0.3M120.4,470.9q1.2,-0.7 2.5,0.8M125.6,420.7q1.4,-0.6 2.8,-0.1M149.4,418.8q1.4,-0.1 2.8,0.5M138.4,477.5q1.7,-0.3 3.4,1.1M118.4,451.9q1.5,-0.0 2.9,0.7M168.1,477.5q1.0,0.8 2.0,0.5M140.8,476.5q1.3,0.5 2.7,0.0M119.0,436.7q1.6,0.8 3.1,1.1M120.9,409.6q1.1,-0.2 2.3,0.2M125.5,471.1q1.3,0.2 2.6,-0.1M118.3,430.7q0.9,0.2 1.7,0.3M137.8,451.0q1.2,0.6 2.3,0.0M139.9,422.7q1.2,-0.1 2.4,0.3M149.7,446.0q1.2,0.7 2.5,0.7M150.8,471.6q1.7,-0.9 3.5,0.1M122.3,429.6q0.8,-0.3 1.5,1.1M138.1,432.9q0.8,0.1 1.5,0.6M166.0,451.0q0.8,-0.5 1.6,-0.0M142.1,451.4q1.1,-0.4 2.1,1.0M147.0,471.7q0.9,-0.7 1.8,0.9M167.3,466.9q0.8,0.9 1.6,0.5M172.0,419.2q1.2,-0.1 2.4,1.2M138.0,463.7q1.1,0.7 2.3,0.3M170.3,420.7q1.6,-0.8 3.2,0.5M162.9,420.1q1.6,-0.1 3.1,1.0M144.3,437.0q1.5,-0.3 3.0,-0.1M166.3,422.4q1.5,1.0 3.0,1.1M133.7,447.2q1.2,0.4 2.3,0.6M135.3,480.7q0.8,-0.0 1.6,0.7M126.3,481.4q0.8,-0.6 1.7,0.5M126.3,445.8q1.5,-0.8 3.0,0.3M158.8,409.7q1.7,-0.6 3.5,1.1M152.2,439.0q1.7,0.2 3.3,0.0M112.7,444.9q0.9,-0.6 1.9,1.1M170.5,451.3q1.5,0.5 3.1,0.1M130.7,420.8q1.2,0.9 2.4,0.2M167.6,405.8q1.1,-0.3 2.2,1.2M163.5,433.0q0.9,0.2 1.8,-0.1M169.3,402.7q1.1,-0.5 2.2,1.2M120.9,462.2q1.4,-1.0 2.8,-0.1M152.1,413.5q1.0,0.0 2.1,-0.1M118.8,476.7q0.9,-0.6 1.8,1.0M113.9,470.3q1.2,-0.4 2.4,0.6M143.1,425.7q1.3,0.9 2.7,-0.1M167.6,440.7q1.0,-0.1 2.0,0.5M143.8,406.9q1.4,0.9 2.8,1.0M151.6,461.5q0.8,-1.0 1.5,0.7M123.4,456.5q0.8,-0.9 1.6,0.9M156.9,443.9q1.5,0.8 2.9,0.5M148.3,466.8q1.1,0.5 2.2,0.1M120.9,467.3q1.2,-0.1 2.4,0.3M165.6,463.0q0.8,-0.8 1.7,0.8M134.9,473.1q1.6,-0.3 3.2,0.9M129.6,411.4q1.4,0.6 2.8,1.0M122.4,450.1q1.2,-0.7 2.4,0.9M116.9,477.1q0.9,-0.5 1.8,0.8M149.3,402.1q1.3,-0.0 2.6,0.7M118.7,429.5q1.2,0.3 2.4,0.6M125.1,456.0q0.9,-0.5 1.8,-0.1M124.1,434.6q1.7,-0.2 3.4,0.7M118.7,472.3q1.7,-0.1 3.4,0.7M114.7,425.5q0.9,-0.0 1.8,0.1M161.7,413.4q1.0,-0.7 2.0,1.0M131.7,455.3q0.9,-0.8 1.9,0.6M138.0,472.2q1.6,-0.8 3.1,0.7" stroke="#4a98ff" stroke-width="1.3" opacity="0.42" fill="none" filter="url(#bl1)"/>
<path d="M58.8,406.0Q89.2,449.4 119.6,485.0" stroke="#90f0ff" stroke-width="0.8" opacity="0.80" fill="none" filter="url(#bl05)"/>
<path d="M59.8,406.0Q91.2,449.4 123.0,485.0" stroke="#5ab8ff" stroke-width="0.8" opacity="0.48" fill="none" filter="url(#bl05)"/>
<path d="M61.1,406.0Q93.7,449.4 126.9,485.0" stroke="#5ab8ff" stroke-width="0.8" opacity="0.46" fill="none" filter="url(#bl05)"/>
<path d="M61.8,406.0Q95.7,449.4 130.5,485.0" stroke="#5ab8ff" stroke-width="0.8" opacity="0.44" fill="none" filter="url(#bl05)"/>
<path d="M62.9,406.0Q98.2,449.4 134.7,485.0" stroke="#5ab8ff" stroke-width="0.8" opacity="0.42" fill="none" filter="url(#bl05)"/>
<path d="M64.0,406.0Q100.9,449.4 139.3,485.0" stroke="#5ab8ff" stroke-width="0.8" opacity="0.40" fill="none" filter="url(#bl05)"/>
<path d="M63.9,406.0Q102.5,449.4 142.9,485.0" stroke="#5ab8ff" stroke-width="0.8" opacity="0.38" fill="none" filter="url(#bl05)"/>
<path d="M66.3,406.0Q106.7,449.4 149.4,485.0" stroke="#5ab8ff" stroke-width="0.8" opacity="0.36" fill="none" filter="url(#bl05)"/>
<path d="M66.5,406.0Q109.0,449.4 154.3,485.0" stroke="#5ab8ff" stroke-width="0.8" opacity="0.34" fill="none" filter="url(#bl05)"/>
<path d="M67.8,406.0Q112.6,449.4 160.7,485.0" stroke="#5ab8ff" stroke-width="0.8" opacity="0.32" fill="none" filter="url(#bl05)"/>
<path d="M67.9,406.0Q115.3,449.4 166.6,485.0" stroke="#5ab8ff" stroke-width="0.8" opacity="0.30" fill="none" filter="url(#bl05)"/>
<path d="M69.2,406.0Q119.6,449.4 174.6,485.0" stroke="#5ab8ff" stroke-width="0.8" opacity="0.28" fill="none" filter="url(#bl05)"/>
<path d="M70.6,406.0Q121.0,446.5 175.9,479.7" stroke="#5ab8ff" stroke-width="0.8" opacity="0.26" fill="none" filter="url(#bl05)"/>
<path d="M70.8,406.0Q121.1,443.6 175.9,474.3" stroke="#5ab8ff" stroke-width="0.8" opacity="0.24" fill="none" filter="url(#bl05)"/>
<path d="M72.2,406.0Q121.8,440.2 175.9,468.2" stroke="#5ab8ff" stroke-width="0.8" opacity="0.22" fill="none" filter="url(#bl05)"/>
<path d="M73.6,406.0Q122.6,436.9 175.9,462.3" stroke="#5ab8ff" stroke-width="0.8" opacity="0.20" fill="none" filter="url(#bl05)"/>
</g>
<path d="M175.9,327.0L243.6,331.0M175.9,327.0L243.6,349.7M175.9,327.0L243.6,334.0M175.9,327.0L243.6,332.9M175.9,327.0L243.6,305.2M175.9,327.0L243.6,354.7M175.9,327.0L243.6,332.4M175.9,327.0L243.6,318.0M175.9,327.0L243.6,354.7M175.9,327.0L243.6,352.4M175.9,327.0L243.6,336.5M175.9,327.0L243.6,333.8M175.9,327.0L243.6,305.8M175.9,327.0L243.6,346.6M175.9,327.0L243.6,317.4M175.9,327.0L243.6,309.0M175.9,327.0L243.6,298.6M175.9,327.0L243.6,312.9M175.9,327.0L243.6,353.2M175.9,327.0L243.6,339.3M175.9,327.0L243.6,354.7M175.9,327.0L243.6,355.1M175.9,327.0L243.6,332.2M175.9,327.0L243.6,333.6" stroke="#3a8cff" stroke-width="1.2" opacity="0.25" fill="none" filter="url(#bl1)"/>
<linearGradient id="fxg1" gradientUnits="userSpaceOnUse" x1="130.20000000000002" y1="0" x2="220.20000000000002" y2="0"><stop offset="0" stop-color="#50b0ff" stop-opacity="0"/><stop offset="0.5" stop-color="#60c0ff" stop-opacity="1"/><stop offset="1" stop-color="#50b0ff" stop-opacity="0"/></linearGradient>
<linearGradient id="fxg2" gradientUnits="userSpaceOnUse" x1="155.20000000000002" y1="0" x2="195.20000000000002" y2="0"><stop offset="0" stop-color="#70d0ff" stop-opacity="0"/><stop offset="0.5" stop-color="#90f0ff" stop-opacity="1"/><stop offset="1" stop-color="#70d0ff" stop-opacity="0"/></linearGradient>
<path d="M130.2,342.3L220.2,311.7M130.2,338.2L220.2,315.8M130.2,334.2L220.2,319.8M130.2,319.8L220.2,334.2M130.2,315.8L220.2,338.2M130.2,311.7L220.2,342.3" stroke="url(#fxg1)" stroke-width="1.6" opacity="0.45" fill="none" filter="url(#bl1)"/>
<path d="M155.2,331.4L195.2,322.6M155.2,329.4L195.2,324.6M155.2,324.6L195.2,329.4M155.2,322.6L195.2,331.4" stroke="url(#fxg2)" stroke-width="1.4" opacity="0.7" fill="none" filter="url(#bl1)"/>
<ellipse cx="175.20000000000002" cy="327.0" rx="8" ry="1.6" fill="#80f0ff" opacity="0.7" filter="url(#bl1)"/>
<ellipse cx="175.20000000000002" cy="327.0" rx="3.2" ry="1.2" fill="#ffe060"/>
<ellipse cx="175.20000000000002" cy="327.0" rx="1.6" ry="0.9" fill="#ff3020"/>
<rect x="34.7" y="247" width="3.6" height="160" fill="#000040"/>
<rect x="174.3" y="165.8" width="3.7" height="84.69999999999999" rx="1.6" fill="#000040"/>
<rect x="174.3" y="403.8" width="3.7" height="84.80000000000001" rx="1.6" fill="#000040"/>
</g>
<rect x="35.300000000000004" y="169.4" width="207.7" height="315.6" fill="none" stroke="#00003a" stroke-width="1.3"/>
<clipPath id="cc"><rect x="333.6" y="168.8" width="209.39999999999998" height="316.8"/></clipPath>
<clipPath id="ccL"><rect x="333.6" y="168.8" width="141.7" height="316.8"/></clipPath>
<linearGradient id="cfade" x1="0" y1="0" x2="1" y2="0"><stop offset="0" stop-color="#fff" stop-opacity="0.15"/><stop offset="0.25" stop-color="#fff" stop-opacity="0.8"/><stop offset="1" stop-color="#fff" stop-opacity="1"/></linearGradient>
<mask id="cmask" maskUnits="userSpaceOnUse" x="333.6" y="168.8" width="209.39999999999998" height="316.8"><rect x="333.6" y="168.8" width="141.7" height="316.8" fill="url(#cfade)"/></mask>
<g clip-path="url(#cc)">
<rect x="333.6" y="168.8" width="209.39999999999998" height="316.8" fill="#0000fc"/>
<rect x="333.6" y="168.8" width="141.7" height="316.8" fill="#0003fb"/>
<g clip-path="url(#ccL)">
<path d="M333.6,168.8H475.3V244L393.6,246L333.6,247.5Z" fill="#0a4cfa"/>
<path d="M333.6,485.2H475.3V410.0L393.6,408.0L333.6,406.5Z" fill="#0a4cfa"/>
<g mask="url(#cmask)">
<path d="M333.6,170.2L475.3,186.4M333.6,172.4L475.3,183.1M333.6,174.8L475.3,185.0M333.6,176.7L475.3,189.1M333.6,179.2L475.3,188.6M333.6,182.6L475.3,195.9M333.6,185.4L475.3,194.9M333.6,187.8L475.3,193.4M333.6,189.9L475.3,195.2M333.6,192.0L475.3,196.8M333.6,193.9L475.3,198.3M333.6,196.5L475.3,200.1M333.6,199.0L475.3,202.5M333.6,202.4L475.3,204.7M333.6,204.2L475.3,205.4M333.6,207.1L475.3,207.0M333.6,208.7L475.3,208.0M333.6,211.4L475.3,210.1M333.6,214.2L475.3,211.5M333.6,216.2L475.3,211.9M333.6,218.3L475.3,212.5M333.6,221.1L475.3,214.6M333.6,224.4L475.3,217.1M333.6,226.5L475.3,220.9M333.6,228.4L475.3,217.2M333.6,231.1L475.3,221.5M333.6,233.4L475.3,226.6M333.6,236.1L475.3,228.7M333.6,239.1L475.3,222.3M333.6,240.6L475.3,224.1M333.6,242.9L475.3,233.6M333.6,246.5L475.3,231.5" stroke="#4090ff" stroke-width="1.1" opacity="0.45" fill="none" filter="url(#bl1)"/>
<path d="M333.6,172.7L475.3,186.4M333.6,177.5L475.3,189.3M333.6,183.8L475.3,193.1M333.6,190.4L475.3,197.0M333.6,197.1L475.3,201.1M333.6,202.9L475.3,204.5M333.6,208.9L475.3,208.1M333.6,215.4L475.3,212.0M333.6,222.8L475.3,216.5M333.6,227.8L475.3,219.5M333.6,235.8L475.3,224.3M333.6,240.6L475.3,227.2" stroke="#0020e8" stroke-width="1.6" opacity="0.35" fill="none" filter="url(#bl2)"/>
<path d="M333.6,245.5Q393.6,240 475.3,238" stroke="#4a96ff" stroke-width="1.5" opacity="0.5" fill="none" filter="url(#bl1)"/>
<path d="M333.6,484.6L475.3,469.5M333.6,481.6L475.3,462.7M333.6,479.5L475.3,467.8M333.6,476.5L475.3,461.1M333.6,474.0L475.3,463.7M333.6,471.2L475.3,460.6M333.6,469.7L475.3,460.9M333.6,466.8L475.3,461.0M333.6,463.6L475.3,459.1M333.6,462.7L475.3,455.6M333.6,459.7L475.3,455.8M333.6,457.7L475.3,454.3M333.6,454.9L475.3,451.0M333.6,452.3L475.3,450.1M333.6,449.9L475.3,449.1M333.6,446.6L475.3,446.7M333.6,445.6L475.3,446.1M333.6,441.7L475.3,444.4M333.6,439.5L475.3,443.1M333.6,437.3L475.3,442.6M333.6,435.2L475.3,439.4M333.6,433.2L475.3,439.8M333.6,430.2L475.3,435.2M333.6,427.7L475.3,433.4M333.6,425.2L475.3,437.0M333.6,422.8L475.3,431.6M333.6,420.9L475.3,434.3M333.6,418.2L475.3,427.3M333.6,415.4L475.3,426.5M333.6,413.0L475.3,430.2M333.6,410.7L475.3,427.7M333.6,407.9L475.3,424.0" stroke="#4090ff" stroke-width="1.1" opacity="0.45" fill="none" filter="url(#bl1)"/>
<path d="M333.6,481.1L475.3,467.5M333.6,475.0L475.3,463.8M333.6,469.0L475.3,460.2M333.6,463.3L475.3,456.8M333.6,456.3L475.3,452.6M333.6,450.2L475.3,448.9M333.6,444.0L475.3,445.2M333.6,438.9L475.3,442.1M333.6,431.5L475.3,437.7M333.6,425.8L475.3,434.3M333.6,418.7L475.3,430.0M333.6,411.8L475.3,425.9" stroke="#0020e8" stroke-width="1.6" opacity="0.35" fill="none" filter="url(#bl2)"/>
<path d="M333.6,408.5Q393.6,414.0 475.3,416.0" stroke="#4a96ff" stroke-width="1.5" opacity="0.5" fill="none" filter="url(#bl1)"/>
</g>
<path d="M336.6,250.0L475.3,327.2M336.6,255.2L475.3,328.8M336.6,260.4L475.3,325.3M336.6,265.6L475.3,328.1M336.6,270.8L475.3,328.4M336.6,276.0L475.3,326.3M336.6,281.2L475.3,327.9M336.6,286.4L475.3,325.8M336.6,291.6L475.3,325.7M336.6,296.8L475.3,325.3M336.6,302.0L475.3,325.6M336.6,307.2L475.3,326.2M336.6,312.4L475.3,326.0M336.6,317.6L475.3,328.5M336.6,322.8L475.3,327.7M336.6,328.0L475.3,328.5M336.6,333.2L475.3,326.4M336.6,338.4L475.3,326.5M336.6,343.6L475.3,325.8M336.6,348.8L475.3,327.5M336.6,354.0L475.3,327.0M336.6,359.2L475.3,325.5M336.6,364.4L475.3,326.5M336.6,369.6L475.3,325.7M336.6,374.8L475.3,326.1M336.6,380.0L475.3,328.6M336.6,385.2L475.3,328.1M336.6,390.4L475.3,326.6M336.6,395.6L475.3,325.8M336.6,400.8L475.3,329.0" stroke="#2060ff" stroke-width="1" opacity="0.07" fill="none" filter="url(#bl1)"/>
<path d="M337.6,249.0Q367.6,275.0 417.6,320.0M346.6,249.0Q376.6,275.0 429.6,320.0M355.6,249.0Q385.6,275.0 441.6,320.0M364.6,249.0Q394.6,275.0 453.6,320.0M373.6,249.0Q403.6,275.0 465.6,320.0M382.6,249.0Q412.6,275.0 477.6,320.0M391.6,249.0Q421.6,275.0 489.6,320.0M337.6,405.0Q367.6,379.0 417.6,334.0M346.6,405.0Q376.6,379.0 429.6,334.0M355.6,405.0Q385.6,379.0 441.6,334.0M364.6,405.0Q394.6,379.0 453.6,334.0M373.6,405.0Q403.6,379.0 465.6,334.0M382.6,405.0Q412.6,379.0 477.6,334.0M391.6,405.0Q421.6,379.0 489.6,334.0" stroke="#3070ff" stroke-width="2" opacity="0.12" fill="none" filter="url(#bl2)"/>
</g>
<linearGradient id="cfoc" gradientUnits="userSpaceOnUse" x1="461.3" y1="0" x2="489.3" y2="0"><stop offset="0" stop-color="#3a90ff" stop-opacity="0"/><stop offset="0.5" stop-color="#50a8ff" stop-opacity="1"/><stop offset="1" stop-color="#3a90ff" stop-opacity="0"/></linearGradient>
<path d="M461.3,327.0H489.3" stroke="url(#cfoc)" stroke-width="1.5" opacity="0.25" filter="url(#bl1)"/>
<rect x="333.6" y="247" width="3.6" height="160" fill="#000040"/>
<rect x="473.7" y="165.8" width="3.7" height="84.69999999999999" rx="1.6" fill="#000040"/>
<rect x="473.7" y="403.8" width="3.7" height="84.80000000000001" rx="1.6" fill="#000040"/>
</g>
<rect x="334.20000000000005" y="169.4" width="208.2" height="315.6" fill="none" stroke="#00003a" stroke-width="1.3"/>
<text x="44.2" y="188.9" font-size="13.3" text-anchor="start" fill="#c8d0ff" stroke="#c8d0ff" stroke-width="0.45" textLength="17.5" lengthAdjust="spacing">(b)</text>
<text x="340.3" y="189.0" font-size="13.3" text-anchor="start" fill="#c8d0ff" stroke="#c8d0ff" stroke-width="0.45" textLength="16.8" lengthAdjust="spacing">(c)</text>
<text x="191.6" y="460.6" font-size="12.6" text-anchor="start" fill="#c8d0ff" font-weight="bold">SiO<tspan font-size="7" dy="2.5">2</tspan></text>
<text x="191.4" y="474.4" font-size="11.6" text-anchor="start" fill="#c8d0ff" font-weight="bold" textLength="29" lengthAdjust="spacingAndGlyphs">on Al</text>
<text x="492.6" y="460.6" font-size="12.6" text-anchor="start" fill="#c8d0ff" font-weight="bold">SiO<tspan font-size="7" dy="2.5">2</tspan></text>
<text x="492.5" y="474.4" font-size="11.6" text-anchor="start" fill="#c8d0ff" font-weight="bold" textLength="33.6" lengthAdjust="spacingAndGlyphs">on Au</text>
</svg></body></html>
